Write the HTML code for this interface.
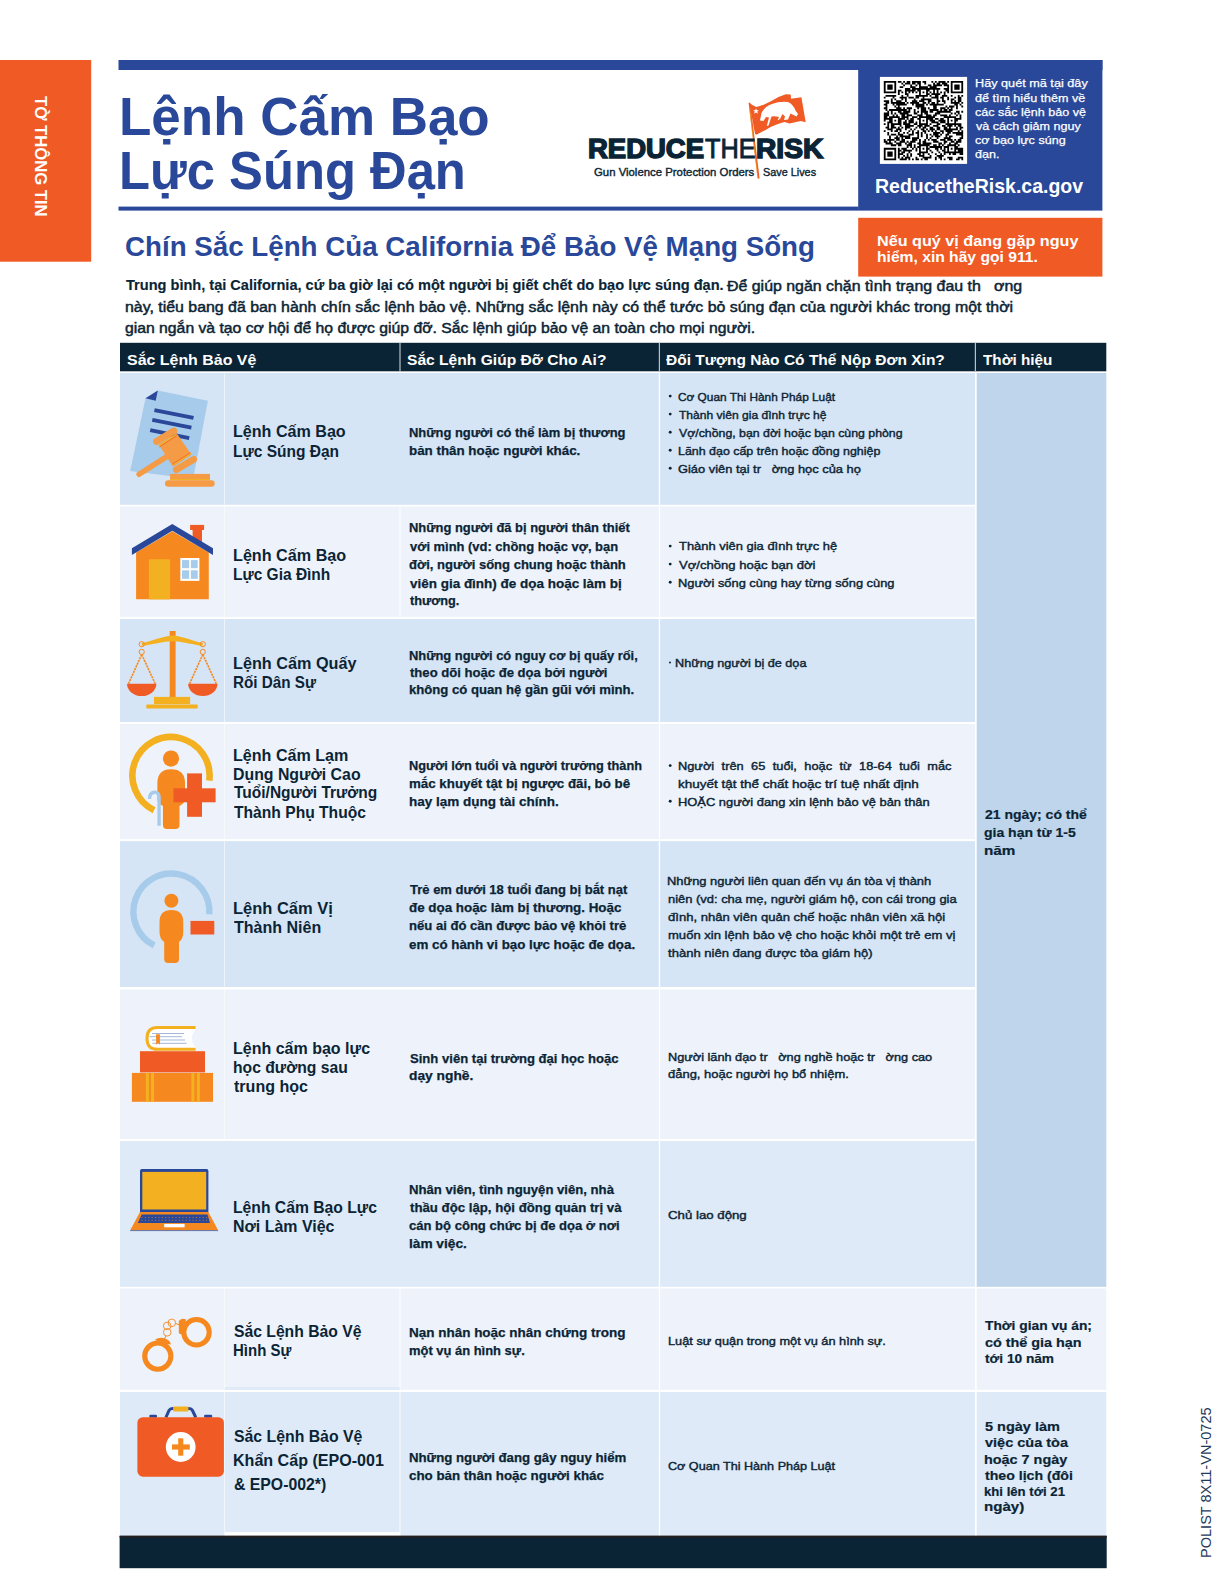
<!DOCTYPE html>
<html><head><meta charset="utf-8"><style>
html,body{margin:0;padding:0;background:#fff;}
body{width:1224px;height:1584px;position:relative;overflow:hidden;font-family:"Liberation Sans",sans-serif;}
.t{position:absolute;white-space:pre;transform-origin:0 0;}
svg{position:absolute;left:0;top:0;}
</style></head><body>
<svg width="1224" height="1584" viewBox="0 0 1224 1584"><rect x="0" y="60" width="91.2" height="201.7" fill="#f05a24"/><rect x="118.5" y="60" width="984" height="10" fill="#2a4899"/><rect x="858.2" y="60" width="244.2" height="150.6" fill="#2a4899"/><rect x="118.5" y="206.6" width="740" height="4" fill="#2a4899"/><rect x="879.9" y="76.9" width="87.2" height="87" fill="#fff"/><path d="M883.80,80.90h1.81v1.81h-1.81zM885.56,80.90h1.81v1.81h-1.81zM887.32,80.90h1.81v1.81h-1.81zM889.09,80.90h1.81v1.81h-1.81zM890.85,80.90h1.81v1.81h-1.81zM892.61,80.90h1.81v1.81h-1.81zM894.37,80.90h1.81v1.81h-1.81zM897.90,80.90h1.81v1.81h-1.81zM899.66,80.90h1.81v1.81h-1.81zM903.18,80.90h1.81v1.81h-1.81zM906.71,80.90h1.81v1.81h-1.81zM908.47,80.90h1.81v1.81h-1.81zM912.00,80.90h1.81v1.81h-1.81zM913.76,80.90h1.81v1.81h-1.81zM915.52,80.90h1.81v1.81h-1.81zM917.28,80.90h1.81v1.81h-1.81zM919.04,80.90h1.81v1.81h-1.81zM922.57,80.90h1.81v1.81h-1.81zM924.33,80.90h1.81v1.81h-1.81zM931.38,80.90h1.81v1.81h-1.81zM934.90,80.90h1.81v1.81h-1.81zM938.43,80.90h1.81v1.81h-1.81zM940.19,80.90h1.81v1.81h-1.81zM941.95,80.90h1.81v1.81h-1.81zM943.72,80.90h1.81v1.81h-1.81zM947.24,80.90h1.81v1.81h-1.81zM950.76,80.90h1.81v1.81h-1.81zM952.53,80.90h1.81v1.81h-1.81zM954.29,80.90h1.81v1.81h-1.81zM956.05,80.90h1.81v1.81h-1.81zM957.81,80.90h1.81v1.81h-1.81zM959.58,80.90h1.81v1.81h-1.81zM961.34,80.90h1.81v1.81h-1.81zM883.80,82.66h1.81v1.81h-1.81zM894.37,82.66h1.81v1.81h-1.81zM901.42,82.66h1.81v1.81h-1.81zM904.95,82.66h1.81v1.81h-1.81zM906.71,82.66h1.81v1.81h-1.81zM908.47,82.66h1.81v1.81h-1.81zM912.00,82.66h1.81v1.81h-1.81zM913.76,82.66h1.81v1.81h-1.81zM917.28,82.66h1.81v1.81h-1.81zM919.04,82.66h1.81v1.81h-1.81zM924.33,82.66h1.81v1.81h-1.81zM933.14,82.66h1.81v1.81h-1.81zM936.67,82.66h1.81v1.81h-1.81zM938.43,82.66h1.81v1.81h-1.81zM941.95,82.66h1.81v1.81h-1.81zM943.72,82.66h1.81v1.81h-1.81zM945.48,82.66h1.81v1.81h-1.81zM950.76,82.66h1.81v1.81h-1.81zM961.34,82.66h1.81v1.81h-1.81zM883.80,84.42h1.81v1.81h-1.81zM887.32,84.42h1.81v1.81h-1.81zM889.09,84.42h1.81v1.81h-1.81zM890.85,84.42h1.81v1.81h-1.81zM894.37,84.42h1.81v1.81h-1.81zM903.18,84.42h1.81v1.81h-1.81zM910.23,84.42h1.81v1.81h-1.81zM915.52,84.42h1.81v1.81h-1.81zM919.04,84.42h1.81v1.81h-1.81zM927.86,84.42h1.81v1.81h-1.81zM929.62,84.42h1.81v1.81h-1.81zM933.14,84.42h1.81v1.81h-1.81zM934.90,84.42h1.81v1.81h-1.81zM936.67,84.42h1.81v1.81h-1.81zM938.43,84.42h1.81v1.81h-1.81zM940.19,84.42h1.81v1.81h-1.81zM943.72,84.42h1.81v1.81h-1.81zM945.48,84.42h1.81v1.81h-1.81zM947.24,84.42h1.81v1.81h-1.81zM950.76,84.42h1.81v1.81h-1.81zM954.29,84.42h1.81v1.81h-1.81zM956.05,84.42h1.81v1.81h-1.81zM957.81,84.42h1.81v1.81h-1.81zM961.34,84.42h1.81v1.81h-1.81zM883.80,86.19h1.81v1.81h-1.81zM887.32,86.19h1.81v1.81h-1.81zM889.09,86.19h1.81v1.81h-1.81zM890.85,86.19h1.81v1.81h-1.81zM894.37,86.19h1.81v1.81h-1.81zM899.66,86.19h1.81v1.81h-1.81zM901.42,86.19h1.81v1.81h-1.81zM910.23,86.19h1.81v1.81h-1.81zM912.00,86.19h1.81v1.81h-1.81zM913.76,86.19h1.81v1.81h-1.81zM919.04,86.19h1.81v1.81h-1.81zM920.81,86.19h1.81v1.81h-1.81zM922.57,86.19h1.81v1.81h-1.81zM924.33,86.19h1.81v1.81h-1.81zM926.09,86.19h1.81v1.81h-1.81zM929.62,86.19h1.81v1.81h-1.81zM931.38,86.19h1.81v1.81h-1.81zM933.14,86.19h1.81v1.81h-1.81zM934.90,86.19h1.81v1.81h-1.81zM947.24,86.19h1.81v1.81h-1.81zM950.76,86.19h1.81v1.81h-1.81zM954.29,86.19h1.81v1.81h-1.81zM956.05,86.19h1.81v1.81h-1.81zM957.81,86.19h1.81v1.81h-1.81zM961.34,86.19h1.81v1.81h-1.81zM883.80,87.95h1.81v1.81h-1.81zM887.32,87.95h1.81v1.81h-1.81zM889.09,87.95h1.81v1.81h-1.81zM890.85,87.95h1.81v1.81h-1.81zM894.37,87.95h1.81v1.81h-1.81zM904.95,87.95h1.81v1.81h-1.81zM906.71,87.95h1.81v1.81h-1.81zM908.47,87.95h1.81v1.81h-1.81zM912.00,87.95h1.81v1.81h-1.81zM913.76,87.95h1.81v1.81h-1.81zM915.52,87.95h1.81v1.81h-1.81zM917.28,87.95h1.81v1.81h-1.81zM919.04,87.95h1.81v1.81h-1.81zM920.81,87.95h1.81v1.81h-1.81zM922.57,87.95h1.81v1.81h-1.81zM924.33,87.95h1.81v1.81h-1.81zM926.09,87.95h1.81v1.81h-1.81zM927.86,87.95h1.81v1.81h-1.81zM929.62,87.95h1.81v1.81h-1.81zM931.38,87.95h1.81v1.81h-1.81zM933.14,87.95h1.81v1.81h-1.81zM934.90,87.95h1.81v1.81h-1.81zM936.67,87.95h1.81v1.81h-1.81zM938.43,87.95h1.81v1.81h-1.81zM943.72,87.95h1.81v1.81h-1.81zM945.48,87.95h1.81v1.81h-1.81zM947.24,87.95h1.81v1.81h-1.81zM950.76,87.95h1.81v1.81h-1.81zM954.29,87.95h1.81v1.81h-1.81zM956.05,87.95h1.81v1.81h-1.81zM957.81,87.95h1.81v1.81h-1.81zM961.34,87.95h1.81v1.81h-1.81zM883.80,89.71h1.81v1.81h-1.81zM894.37,89.71h1.81v1.81h-1.81zM897.90,89.71h1.81v1.81h-1.81zM899.66,89.71h1.81v1.81h-1.81zM904.95,89.71h1.81v1.81h-1.81zM906.71,89.71h1.81v1.81h-1.81zM908.47,89.71h1.81v1.81h-1.81zM910.23,89.71h1.81v1.81h-1.81zM912.00,89.71h1.81v1.81h-1.81zM913.76,89.71h1.81v1.81h-1.81zM917.28,89.71h1.81v1.81h-1.81zM919.04,89.71h1.81v1.81h-1.81zM926.09,89.71h1.81v1.81h-1.81zM927.86,89.71h1.81v1.81h-1.81zM933.14,89.71h1.81v1.81h-1.81zM936.67,89.71h1.81v1.81h-1.81zM945.48,89.71h1.81v1.81h-1.81zM947.24,89.71h1.81v1.81h-1.81zM950.76,89.71h1.81v1.81h-1.81zM961.34,89.71h1.81v1.81h-1.81zM883.80,91.47h1.81v1.81h-1.81zM885.56,91.47h1.81v1.81h-1.81zM887.32,91.47h1.81v1.81h-1.81zM889.09,91.47h1.81v1.81h-1.81zM890.85,91.47h1.81v1.81h-1.81zM892.61,91.47h1.81v1.81h-1.81zM894.37,91.47h1.81v1.81h-1.81zM897.90,91.47h1.81v1.81h-1.81zM901.42,91.47h1.81v1.81h-1.81zM904.95,91.47h1.81v1.81h-1.81zM908.47,91.47h1.81v1.81h-1.81zM912.00,91.47h1.81v1.81h-1.81zM915.52,91.47h1.81v1.81h-1.81zM919.04,91.47h1.81v1.81h-1.81zM922.57,91.47h1.81v1.81h-1.81zM926.09,91.47h1.81v1.81h-1.81zM929.62,91.47h1.81v1.81h-1.81zM933.14,91.47h1.81v1.81h-1.81zM936.67,91.47h1.81v1.81h-1.81zM940.19,91.47h1.81v1.81h-1.81zM943.72,91.47h1.81v1.81h-1.81zM947.24,91.47h1.81v1.81h-1.81zM950.76,91.47h1.81v1.81h-1.81zM952.53,91.47h1.81v1.81h-1.81zM954.29,91.47h1.81v1.81h-1.81zM956.05,91.47h1.81v1.81h-1.81zM957.81,91.47h1.81v1.81h-1.81zM959.58,91.47h1.81v1.81h-1.81zM961.34,91.47h1.81v1.81h-1.81zM897.90,93.24h1.81v1.81h-1.81zM904.95,93.24h1.81v1.81h-1.81zM906.71,93.24h1.81v1.81h-1.81zM919.04,93.24h1.81v1.81h-1.81zM926.09,93.24h1.81v1.81h-1.81zM927.86,93.24h1.81v1.81h-1.81zM931.38,93.24h1.81v1.81h-1.81zM933.14,93.24h1.81v1.81h-1.81zM934.90,93.24h1.81v1.81h-1.81zM936.67,93.24h1.81v1.81h-1.81zM938.43,93.24h1.81v1.81h-1.81zM943.72,93.24h1.81v1.81h-1.81zM885.56,95.00h1.81v1.81h-1.81zM887.32,95.00h1.81v1.81h-1.81zM889.09,95.00h1.81v1.81h-1.81zM890.85,95.00h1.81v1.81h-1.81zM892.61,95.00h1.81v1.81h-1.81zM894.37,95.00h1.81v1.81h-1.81zM901.42,95.00h1.81v1.81h-1.81zM906.71,95.00h1.81v1.81h-1.81zM915.52,95.00h1.81v1.81h-1.81zM917.28,95.00h1.81v1.81h-1.81zM919.04,95.00h1.81v1.81h-1.81zM920.81,95.00h1.81v1.81h-1.81zM922.57,95.00h1.81v1.81h-1.81zM924.33,95.00h1.81v1.81h-1.81zM926.09,95.00h1.81v1.81h-1.81zM929.62,95.00h1.81v1.81h-1.81zM934.90,95.00h1.81v1.81h-1.81zM936.67,95.00h1.81v1.81h-1.81zM941.95,95.00h1.81v1.81h-1.81zM943.72,95.00h1.81v1.81h-1.81zM945.48,95.00h1.81v1.81h-1.81zM950.76,95.00h1.81v1.81h-1.81zM957.81,95.00h1.81v1.81h-1.81zM961.34,95.00h1.81v1.81h-1.81zM883.80,96.76h1.81v1.81h-1.81zM892.61,96.76h1.81v1.81h-1.81zM899.66,96.76h1.81v1.81h-1.81zM901.42,96.76h1.81v1.81h-1.81zM903.18,96.76h1.81v1.81h-1.81zM904.95,96.76h1.81v1.81h-1.81zM908.47,96.76h1.81v1.81h-1.81zM910.23,96.76h1.81v1.81h-1.81zM912.00,96.76h1.81v1.81h-1.81zM915.52,96.76h1.81v1.81h-1.81zM917.28,96.76h1.81v1.81h-1.81zM922.57,96.76h1.81v1.81h-1.81zM931.38,96.76h1.81v1.81h-1.81zM933.14,96.76h1.81v1.81h-1.81zM934.90,96.76h1.81v1.81h-1.81zM936.67,96.76h1.81v1.81h-1.81zM940.19,96.76h1.81v1.81h-1.81zM941.95,96.76h1.81v1.81h-1.81zM947.24,96.76h1.81v1.81h-1.81zM954.29,96.76h1.81v1.81h-1.81zM957.81,96.76h1.81v1.81h-1.81zM959.58,96.76h1.81v1.81h-1.81zM890.85,98.52h1.81v1.81h-1.81zM894.37,98.52h1.81v1.81h-1.81zM901.42,98.52h1.81v1.81h-1.81zM904.95,98.52h1.81v1.81h-1.81zM913.76,98.52h1.81v1.81h-1.81zM920.81,98.52h1.81v1.81h-1.81zM922.57,98.52h1.81v1.81h-1.81zM924.33,98.52h1.81v1.81h-1.81zM926.09,98.52h1.81v1.81h-1.81zM927.86,98.52h1.81v1.81h-1.81zM929.62,98.52h1.81v1.81h-1.81zM936.67,98.52h1.81v1.81h-1.81zM941.95,98.52h1.81v1.81h-1.81zM947.24,98.52h1.81v1.81h-1.81zM950.76,98.52h1.81v1.81h-1.81zM952.53,98.52h1.81v1.81h-1.81zM957.81,98.52h1.81v1.81h-1.81zM959.58,98.52h1.81v1.81h-1.81zM883.80,100.28h1.81v1.81h-1.81zM885.56,100.28h1.81v1.81h-1.81zM887.32,100.28h1.81v1.81h-1.81zM890.85,100.28h1.81v1.81h-1.81zM896.14,100.28h1.81v1.81h-1.81zM897.90,100.28h1.81v1.81h-1.81zM899.66,100.28h1.81v1.81h-1.81zM904.95,100.28h1.81v1.81h-1.81zM912.00,100.28h1.81v1.81h-1.81zM913.76,100.28h1.81v1.81h-1.81zM915.52,100.28h1.81v1.81h-1.81zM919.04,100.28h1.81v1.81h-1.81zM920.81,100.28h1.81v1.81h-1.81zM922.57,100.28h1.81v1.81h-1.81zM927.86,100.28h1.81v1.81h-1.81zM929.62,100.28h1.81v1.81h-1.81zM936.67,100.28h1.81v1.81h-1.81zM938.43,100.28h1.81v1.81h-1.81zM941.95,100.28h1.81v1.81h-1.81zM943.72,100.28h1.81v1.81h-1.81zM950.76,100.28h1.81v1.81h-1.81zM954.29,100.28h1.81v1.81h-1.81zM957.81,100.28h1.81v1.81h-1.81zM959.58,100.28h1.81v1.81h-1.81zM885.56,102.05h1.81v1.81h-1.81zM887.32,102.05h1.81v1.81h-1.81zM890.85,102.05h1.81v1.81h-1.81zM892.61,102.05h1.81v1.81h-1.81zM894.37,102.05h1.81v1.81h-1.81zM896.14,102.05h1.81v1.81h-1.81zM897.90,102.05h1.81v1.81h-1.81zM899.66,102.05h1.81v1.81h-1.81zM901.42,102.05h1.81v1.81h-1.81zM903.18,102.05h1.81v1.81h-1.81zM906.71,102.05h1.81v1.81h-1.81zM910.23,102.05h1.81v1.81h-1.81zM912.00,102.05h1.81v1.81h-1.81zM913.76,102.05h1.81v1.81h-1.81zM915.52,102.05h1.81v1.81h-1.81zM917.28,102.05h1.81v1.81h-1.81zM922.57,102.05h1.81v1.81h-1.81zM924.33,102.05h1.81v1.81h-1.81zM927.86,102.05h1.81v1.81h-1.81zM931.38,102.05h1.81v1.81h-1.81zM933.14,102.05h1.81v1.81h-1.81zM936.67,102.05h1.81v1.81h-1.81zM943.72,102.05h1.81v1.81h-1.81zM950.76,102.05h1.81v1.81h-1.81zM952.53,102.05h1.81v1.81h-1.81zM954.29,102.05h1.81v1.81h-1.81zM956.05,102.05h1.81v1.81h-1.81zM957.81,102.05h1.81v1.81h-1.81zM961.34,102.05h1.81v1.81h-1.81zM883.80,103.81h1.81v1.81h-1.81zM885.56,103.81h1.81v1.81h-1.81zM892.61,103.81h1.81v1.81h-1.81zM896.14,103.81h1.81v1.81h-1.81zM897.90,103.81h1.81v1.81h-1.81zM899.66,103.81h1.81v1.81h-1.81zM901.42,103.81h1.81v1.81h-1.81zM903.18,103.81h1.81v1.81h-1.81zM904.95,103.81h1.81v1.81h-1.81zM912.00,103.81h1.81v1.81h-1.81zM915.52,103.81h1.81v1.81h-1.81zM917.28,103.81h1.81v1.81h-1.81zM919.04,103.81h1.81v1.81h-1.81zM920.81,103.81h1.81v1.81h-1.81zM922.57,103.81h1.81v1.81h-1.81zM926.09,103.81h1.81v1.81h-1.81zM929.62,103.81h1.81v1.81h-1.81zM931.38,103.81h1.81v1.81h-1.81zM933.14,103.81h1.81v1.81h-1.81zM934.90,103.81h1.81v1.81h-1.81zM936.67,103.81h1.81v1.81h-1.81zM938.43,103.81h1.81v1.81h-1.81zM940.19,103.81h1.81v1.81h-1.81zM941.95,103.81h1.81v1.81h-1.81zM954.29,103.81h1.81v1.81h-1.81zM956.05,103.81h1.81v1.81h-1.81zM959.58,103.81h1.81v1.81h-1.81zM885.56,105.57h1.81v1.81h-1.81zM894.37,105.57h1.81v1.81h-1.81zM897.90,105.57h1.81v1.81h-1.81zM915.52,105.57h1.81v1.81h-1.81zM917.28,105.57h1.81v1.81h-1.81zM919.04,105.57h1.81v1.81h-1.81zM920.81,105.57h1.81v1.81h-1.81zM922.57,105.57h1.81v1.81h-1.81zM933.14,105.57h1.81v1.81h-1.81zM934.90,105.57h1.81v1.81h-1.81zM945.48,105.57h1.81v1.81h-1.81zM949.00,105.57h1.81v1.81h-1.81zM950.76,105.57h1.81v1.81h-1.81zM952.53,105.57h1.81v1.81h-1.81zM956.05,105.57h1.81v1.81h-1.81zM961.34,105.57h1.81v1.81h-1.81zM883.80,107.33h1.81v1.81h-1.81zM885.56,107.33h1.81v1.81h-1.81zM896.14,107.33h1.81v1.81h-1.81zM897.90,107.33h1.81v1.81h-1.81zM899.66,107.33h1.81v1.81h-1.81zM903.18,107.33h1.81v1.81h-1.81zM906.71,107.33h1.81v1.81h-1.81zM908.47,107.33h1.81v1.81h-1.81zM910.23,107.33h1.81v1.81h-1.81zM917.28,107.33h1.81v1.81h-1.81zM920.81,107.33h1.81v1.81h-1.81zM922.57,107.33h1.81v1.81h-1.81zM924.33,107.33h1.81v1.81h-1.81zM927.86,107.33h1.81v1.81h-1.81zM933.14,107.33h1.81v1.81h-1.81zM934.90,107.33h1.81v1.81h-1.81zM940.19,107.33h1.81v1.81h-1.81zM941.95,107.33h1.81v1.81h-1.81zM943.72,107.33h1.81v1.81h-1.81zM947.24,107.33h1.81v1.81h-1.81zM950.76,107.33h1.81v1.81h-1.81zM956.05,107.33h1.81v1.81h-1.81zM885.56,109.10h1.81v1.81h-1.81zM889.09,109.10h1.81v1.81h-1.81zM890.85,109.10h1.81v1.81h-1.81zM892.61,109.10h1.81v1.81h-1.81zM894.37,109.10h1.81v1.81h-1.81zM896.14,109.10h1.81v1.81h-1.81zM897.90,109.10h1.81v1.81h-1.81zM899.66,109.10h1.81v1.81h-1.81zM901.42,109.10h1.81v1.81h-1.81zM903.18,109.10h1.81v1.81h-1.81zM904.95,109.10h1.81v1.81h-1.81zM908.47,109.10h1.81v1.81h-1.81zM913.76,109.10h1.81v1.81h-1.81zM920.81,109.10h1.81v1.81h-1.81zM922.57,109.10h1.81v1.81h-1.81zM924.33,109.10h1.81v1.81h-1.81zM929.62,109.10h1.81v1.81h-1.81zM931.38,109.10h1.81v1.81h-1.81zM933.14,109.10h1.81v1.81h-1.81zM934.90,109.10h1.81v1.81h-1.81zM936.67,109.10h1.81v1.81h-1.81zM940.19,109.10h1.81v1.81h-1.81zM943.72,109.10h1.81v1.81h-1.81zM945.48,109.10h1.81v1.81h-1.81zM949.00,109.10h1.81v1.81h-1.81zM950.76,109.10h1.81v1.81h-1.81zM887.32,110.86h1.81v1.81h-1.81zM890.85,110.86h1.81v1.81h-1.81zM897.90,110.86h1.81v1.81h-1.81zM899.66,110.86h1.81v1.81h-1.81zM903.18,110.86h1.81v1.81h-1.81zM904.95,110.86h1.81v1.81h-1.81zM906.71,110.86h1.81v1.81h-1.81zM908.47,110.86h1.81v1.81h-1.81zM913.76,110.86h1.81v1.81h-1.81zM917.28,110.86h1.81v1.81h-1.81zM920.81,110.86h1.81v1.81h-1.81zM922.57,110.86h1.81v1.81h-1.81zM924.33,110.86h1.81v1.81h-1.81zM926.09,110.86h1.81v1.81h-1.81zM929.62,110.86h1.81v1.81h-1.81zM931.38,110.86h1.81v1.81h-1.81zM936.67,110.86h1.81v1.81h-1.81zM938.43,110.86h1.81v1.81h-1.81zM940.19,110.86h1.81v1.81h-1.81zM941.95,110.86h1.81v1.81h-1.81zM943.72,110.86h1.81v1.81h-1.81zM945.48,110.86h1.81v1.81h-1.81zM947.24,110.86h1.81v1.81h-1.81zM949.00,110.86h1.81v1.81h-1.81zM956.05,110.86h1.81v1.81h-1.81zM957.81,110.86h1.81v1.81h-1.81zM961.34,110.86h1.81v1.81h-1.81zM883.80,112.62h1.81v1.81h-1.81zM885.56,112.62h1.81v1.81h-1.81zM887.32,112.62h1.81v1.81h-1.81zM890.85,112.62h1.81v1.81h-1.81zM894.37,112.62h1.81v1.81h-1.81zM899.66,112.62h1.81v1.81h-1.81zM901.42,112.62h1.81v1.81h-1.81zM903.18,112.62h1.81v1.81h-1.81zM904.95,112.62h1.81v1.81h-1.81zM906.71,112.62h1.81v1.81h-1.81zM913.76,112.62h1.81v1.81h-1.81zM915.52,112.62h1.81v1.81h-1.81zM920.81,112.62h1.81v1.81h-1.81zM924.33,112.62h1.81v1.81h-1.81zM926.09,112.62h1.81v1.81h-1.81zM934.90,112.62h1.81v1.81h-1.81zM936.67,112.62h1.81v1.81h-1.81zM938.43,112.62h1.81v1.81h-1.81zM950.76,112.62h1.81v1.81h-1.81zM954.29,112.62h1.81v1.81h-1.81zM957.81,112.62h1.81v1.81h-1.81zM883.80,114.38h1.81v1.81h-1.81zM885.56,114.38h1.81v1.81h-1.81zM887.32,114.38h1.81v1.81h-1.81zM892.61,114.38h1.81v1.81h-1.81zM896.14,114.38h1.81v1.81h-1.81zM901.42,114.38h1.81v1.81h-1.81zM903.18,114.38h1.81v1.81h-1.81zM906.71,114.38h1.81v1.81h-1.81zM908.47,114.38h1.81v1.81h-1.81zM910.23,114.38h1.81v1.81h-1.81zM917.28,114.38h1.81v1.81h-1.81zM919.04,114.38h1.81v1.81h-1.81zM920.81,114.38h1.81v1.81h-1.81zM926.09,114.38h1.81v1.81h-1.81zM927.86,114.38h1.81v1.81h-1.81zM929.62,114.38h1.81v1.81h-1.81zM933.14,114.38h1.81v1.81h-1.81zM934.90,114.38h1.81v1.81h-1.81zM940.19,114.38h1.81v1.81h-1.81zM941.95,114.38h1.81v1.81h-1.81zM943.72,114.38h1.81v1.81h-1.81zM945.48,114.38h1.81v1.81h-1.81zM949.00,114.38h1.81v1.81h-1.81zM956.05,114.38h1.81v1.81h-1.81zM959.58,114.38h1.81v1.81h-1.81zM883.80,116.14h1.81v1.81h-1.81zM885.56,116.14h1.81v1.81h-1.81zM889.09,116.14h1.81v1.81h-1.81zM890.85,116.14h1.81v1.81h-1.81zM892.61,116.14h1.81v1.81h-1.81zM894.37,116.14h1.81v1.81h-1.81zM896.14,116.14h1.81v1.81h-1.81zM897.90,116.14h1.81v1.81h-1.81zM901.42,116.14h1.81v1.81h-1.81zM903.18,116.14h1.81v1.81h-1.81zM904.95,116.14h1.81v1.81h-1.81zM906.71,116.14h1.81v1.81h-1.81zM912.00,116.14h1.81v1.81h-1.81zM913.76,116.14h1.81v1.81h-1.81zM915.52,116.14h1.81v1.81h-1.81zM919.04,116.14h1.81v1.81h-1.81zM920.81,116.14h1.81v1.81h-1.81zM922.57,116.14h1.81v1.81h-1.81zM924.33,116.14h1.81v1.81h-1.81zM926.09,116.14h1.81v1.81h-1.81zM927.86,116.14h1.81v1.81h-1.81zM929.62,116.14h1.81v1.81h-1.81zM931.38,116.14h1.81v1.81h-1.81zM933.14,116.14h1.81v1.81h-1.81zM943.72,116.14h1.81v1.81h-1.81zM945.48,116.14h1.81v1.81h-1.81zM947.24,116.14h1.81v1.81h-1.81zM949.00,116.14h1.81v1.81h-1.81zM950.76,116.14h1.81v1.81h-1.81zM952.53,116.14h1.81v1.81h-1.81zM954.29,116.14h1.81v1.81h-1.81zM959.58,116.14h1.81v1.81h-1.81zM883.80,117.91h1.81v1.81h-1.81zM885.56,117.91h1.81v1.81h-1.81zM887.32,117.91h1.81v1.81h-1.81zM889.09,117.91h1.81v1.81h-1.81zM890.85,117.91h1.81v1.81h-1.81zM897.90,117.91h1.81v1.81h-1.81zM899.66,117.91h1.81v1.81h-1.81zM901.42,117.91h1.81v1.81h-1.81zM903.18,117.91h1.81v1.81h-1.81zM906.71,117.91h1.81v1.81h-1.81zM910.23,117.91h1.81v1.81h-1.81zM912.00,117.91h1.81v1.81h-1.81zM917.28,117.91h1.81v1.81h-1.81zM919.04,117.91h1.81v1.81h-1.81zM926.09,117.91h1.81v1.81h-1.81zM927.86,117.91h1.81v1.81h-1.81zM929.62,117.91h1.81v1.81h-1.81zM931.38,117.91h1.81v1.81h-1.81zM934.90,117.91h1.81v1.81h-1.81zM936.67,117.91h1.81v1.81h-1.81zM940.19,117.91h1.81v1.81h-1.81zM941.95,117.91h1.81v1.81h-1.81zM947.24,117.91h1.81v1.81h-1.81zM954.29,117.91h1.81v1.81h-1.81zM956.05,117.91h1.81v1.81h-1.81zM957.81,117.91h1.81v1.81h-1.81zM959.58,117.91h1.81v1.81h-1.81zM883.80,119.67h1.81v1.81h-1.81zM889.09,119.67h1.81v1.81h-1.81zM890.85,119.67h1.81v1.81h-1.81zM894.37,119.67h1.81v1.81h-1.81zM897.90,119.67h1.81v1.81h-1.81zM899.66,119.67h1.81v1.81h-1.81zM904.95,119.67h1.81v1.81h-1.81zM908.47,119.67h1.81v1.81h-1.81zM910.23,119.67h1.81v1.81h-1.81zM912.00,119.67h1.81v1.81h-1.81zM919.04,119.67h1.81v1.81h-1.81zM922.57,119.67h1.81v1.81h-1.81zM926.09,119.67h1.81v1.81h-1.81zM929.62,119.67h1.81v1.81h-1.81zM931.38,119.67h1.81v1.81h-1.81zM933.14,119.67h1.81v1.81h-1.81zM938.43,119.67h1.81v1.81h-1.81zM940.19,119.67h1.81v1.81h-1.81zM941.95,119.67h1.81v1.81h-1.81zM943.72,119.67h1.81v1.81h-1.81zM947.24,119.67h1.81v1.81h-1.81zM950.76,119.67h1.81v1.81h-1.81zM954.29,119.67h1.81v1.81h-1.81zM956.05,119.67h1.81v1.81h-1.81zM887.32,121.43h1.81v1.81h-1.81zM889.09,121.43h1.81v1.81h-1.81zM890.85,121.43h1.81v1.81h-1.81zM897.90,121.43h1.81v1.81h-1.81zM899.66,121.43h1.81v1.81h-1.81zM903.18,121.43h1.81v1.81h-1.81zM904.95,121.43h1.81v1.81h-1.81zM908.47,121.43h1.81v1.81h-1.81zM910.23,121.43h1.81v1.81h-1.81zM912.00,121.43h1.81v1.81h-1.81zM915.52,121.43h1.81v1.81h-1.81zM919.04,121.43h1.81v1.81h-1.81zM926.09,121.43h1.81v1.81h-1.81zM931.38,121.43h1.81v1.81h-1.81zM933.14,121.43h1.81v1.81h-1.81zM934.90,121.43h1.81v1.81h-1.81zM936.67,121.43h1.81v1.81h-1.81zM940.19,121.43h1.81v1.81h-1.81zM941.95,121.43h1.81v1.81h-1.81zM943.72,121.43h1.81v1.81h-1.81zM947.24,121.43h1.81v1.81h-1.81zM954.29,121.43h1.81v1.81h-1.81zM883.80,123.19h1.81v1.81h-1.81zM887.32,123.19h1.81v1.81h-1.81zM890.85,123.19h1.81v1.81h-1.81zM892.61,123.19h1.81v1.81h-1.81zM894.37,123.19h1.81v1.81h-1.81zM896.14,123.19h1.81v1.81h-1.81zM897.90,123.19h1.81v1.81h-1.81zM899.66,123.19h1.81v1.81h-1.81zM903.18,123.19h1.81v1.81h-1.81zM904.95,123.19h1.81v1.81h-1.81zM906.71,123.19h1.81v1.81h-1.81zM908.47,123.19h1.81v1.81h-1.81zM913.76,123.19h1.81v1.81h-1.81zM915.52,123.19h1.81v1.81h-1.81zM919.04,123.19h1.81v1.81h-1.81zM920.81,123.19h1.81v1.81h-1.81zM922.57,123.19h1.81v1.81h-1.81zM924.33,123.19h1.81v1.81h-1.81zM926.09,123.19h1.81v1.81h-1.81zM929.62,123.19h1.81v1.81h-1.81zM936.67,123.19h1.81v1.81h-1.81zM938.43,123.19h1.81v1.81h-1.81zM945.48,123.19h1.81v1.81h-1.81zM947.24,123.19h1.81v1.81h-1.81zM949.00,123.19h1.81v1.81h-1.81zM950.76,123.19h1.81v1.81h-1.81zM952.53,123.19h1.81v1.81h-1.81zM954.29,123.19h1.81v1.81h-1.81zM956.05,123.19h1.81v1.81h-1.81zM957.81,123.19h1.81v1.81h-1.81zM959.58,123.19h1.81v1.81h-1.81zM887.32,124.96h1.81v1.81h-1.81zM890.85,124.96h1.81v1.81h-1.81zM892.61,124.96h1.81v1.81h-1.81zM899.66,124.96h1.81v1.81h-1.81zM904.95,124.96h1.81v1.81h-1.81zM906.71,124.96h1.81v1.81h-1.81zM908.47,124.96h1.81v1.81h-1.81zM910.23,124.96h1.81v1.81h-1.81zM912.00,124.96h1.81v1.81h-1.81zM917.28,124.96h1.81v1.81h-1.81zM919.04,124.96h1.81v1.81h-1.81zM920.81,124.96h1.81v1.81h-1.81zM924.33,124.96h1.81v1.81h-1.81zM926.09,124.96h1.81v1.81h-1.81zM927.86,124.96h1.81v1.81h-1.81zM933.14,124.96h1.81v1.81h-1.81zM934.90,124.96h1.81v1.81h-1.81zM936.67,124.96h1.81v1.81h-1.81zM941.95,124.96h1.81v1.81h-1.81zM943.72,124.96h1.81v1.81h-1.81zM947.24,124.96h1.81v1.81h-1.81zM949.00,124.96h1.81v1.81h-1.81zM950.76,124.96h1.81v1.81h-1.81zM954.29,124.96h1.81v1.81h-1.81zM957.81,124.96h1.81v1.81h-1.81zM959.58,124.96h1.81v1.81h-1.81zM885.56,126.72h1.81v1.81h-1.81zM887.32,126.72h1.81v1.81h-1.81zM890.85,126.72h1.81v1.81h-1.81zM892.61,126.72h1.81v1.81h-1.81zM894.37,126.72h1.81v1.81h-1.81zM897.90,126.72h1.81v1.81h-1.81zM901.42,126.72h1.81v1.81h-1.81zM904.95,126.72h1.81v1.81h-1.81zM906.71,126.72h1.81v1.81h-1.81zM908.47,126.72h1.81v1.81h-1.81zM915.52,126.72h1.81v1.81h-1.81zM919.04,126.72h1.81v1.81h-1.81zM922.57,126.72h1.81v1.81h-1.81zM924.33,126.72h1.81v1.81h-1.81zM929.62,126.72h1.81v1.81h-1.81zM931.38,126.72h1.81v1.81h-1.81zM936.67,126.72h1.81v1.81h-1.81zM938.43,126.72h1.81v1.81h-1.81zM943.72,126.72h1.81v1.81h-1.81zM945.48,126.72h1.81v1.81h-1.81zM949.00,126.72h1.81v1.81h-1.81zM956.05,126.72h1.81v1.81h-1.81zM959.58,126.72h1.81v1.81h-1.81zM961.34,126.72h1.81v1.81h-1.81zM887.32,128.48h1.81v1.81h-1.81zM889.09,128.48h1.81v1.81h-1.81zM890.85,128.48h1.81v1.81h-1.81zM896.14,128.48h1.81v1.81h-1.81zM897.90,128.48h1.81v1.81h-1.81zM899.66,128.48h1.81v1.81h-1.81zM904.95,128.48h1.81v1.81h-1.81zM910.23,128.48h1.81v1.81h-1.81zM913.76,128.48h1.81v1.81h-1.81zM920.81,128.48h1.81v1.81h-1.81zM922.57,128.48h1.81v1.81h-1.81zM926.09,128.48h1.81v1.81h-1.81zM929.62,128.48h1.81v1.81h-1.81zM931.38,128.48h1.81v1.81h-1.81zM933.14,128.48h1.81v1.81h-1.81zM936.67,128.48h1.81v1.81h-1.81zM938.43,128.48h1.81v1.81h-1.81zM943.72,128.48h1.81v1.81h-1.81zM945.48,128.48h1.81v1.81h-1.81zM947.24,128.48h1.81v1.81h-1.81zM949.00,128.48h1.81v1.81h-1.81zM950.76,128.48h1.81v1.81h-1.81zM952.53,128.48h1.81v1.81h-1.81zM954.29,128.48h1.81v1.81h-1.81zM956.05,128.48h1.81v1.81h-1.81zM959.58,128.48h1.81v1.81h-1.81zM883.80,130.24h1.81v1.81h-1.81zM890.85,130.24h1.81v1.81h-1.81zM894.37,130.24h1.81v1.81h-1.81zM896.14,130.24h1.81v1.81h-1.81zM899.66,130.24h1.81v1.81h-1.81zM908.47,130.24h1.81v1.81h-1.81zM912.00,130.24h1.81v1.81h-1.81zM917.28,130.24h1.81v1.81h-1.81zM922.57,130.24h1.81v1.81h-1.81zM924.33,130.24h1.81v1.81h-1.81zM927.86,130.24h1.81v1.81h-1.81zM931.38,130.24h1.81v1.81h-1.81zM934.90,130.24h1.81v1.81h-1.81zM940.19,130.24h1.81v1.81h-1.81zM941.95,130.24h1.81v1.81h-1.81zM945.48,130.24h1.81v1.81h-1.81zM947.24,130.24h1.81v1.81h-1.81zM949.00,130.24h1.81v1.81h-1.81zM950.76,130.24h1.81v1.81h-1.81zM957.81,130.24h1.81v1.81h-1.81zM961.34,130.24h1.81v1.81h-1.81zM887.32,132.00h1.81v1.81h-1.81zM897.90,132.00h1.81v1.81h-1.81zM903.18,132.00h1.81v1.81h-1.81zM906.71,132.00h1.81v1.81h-1.81zM912.00,132.00h1.81v1.81h-1.81zM915.52,132.00h1.81v1.81h-1.81zM917.28,132.00h1.81v1.81h-1.81zM920.81,132.00h1.81v1.81h-1.81zM924.33,132.00h1.81v1.81h-1.81zM933.14,132.00h1.81v1.81h-1.81zM934.90,132.00h1.81v1.81h-1.81zM936.67,132.00h1.81v1.81h-1.81zM938.43,132.00h1.81v1.81h-1.81zM941.95,132.00h1.81v1.81h-1.81zM947.24,132.00h1.81v1.81h-1.81zM949.00,132.00h1.81v1.81h-1.81zM952.53,132.00h1.81v1.81h-1.81zM954.29,132.00h1.81v1.81h-1.81zM956.05,132.00h1.81v1.81h-1.81zM957.81,132.00h1.81v1.81h-1.81zM959.58,132.00h1.81v1.81h-1.81zM961.34,132.00h1.81v1.81h-1.81zM887.32,133.77h1.81v1.81h-1.81zM890.85,133.77h1.81v1.81h-1.81zM892.61,133.77h1.81v1.81h-1.81zM894.37,133.77h1.81v1.81h-1.81zM897.90,133.77h1.81v1.81h-1.81zM899.66,133.77h1.81v1.81h-1.81zM901.42,133.77h1.81v1.81h-1.81zM908.47,133.77h1.81v1.81h-1.81zM910.23,133.77h1.81v1.81h-1.81zM912.00,133.77h1.81v1.81h-1.81zM917.28,133.77h1.81v1.81h-1.81zM920.81,133.77h1.81v1.81h-1.81zM926.09,133.77h1.81v1.81h-1.81zM929.62,133.77h1.81v1.81h-1.81zM933.14,133.77h1.81v1.81h-1.81zM934.90,133.77h1.81v1.81h-1.81zM936.67,133.77h1.81v1.81h-1.81zM940.19,133.77h1.81v1.81h-1.81zM945.48,133.77h1.81v1.81h-1.81zM947.24,133.77h1.81v1.81h-1.81zM956.05,133.77h1.81v1.81h-1.81zM957.81,133.77h1.81v1.81h-1.81zM959.58,133.77h1.81v1.81h-1.81zM961.34,133.77h1.81v1.81h-1.81zM889.09,135.53h1.81v1.81h-1.81zM896.14,135.53h1.81v1.81h-1.81zM899.66,135.53h1.81v1.81h-1.81zM901.42,135.53h1.81v1.81h-1.81zM903.18,135.53h1.81v1.81h-1.81zM904.95,135.53h1.81v1.81h-1.81zM906.71,135.53h1.81v1.81h-1.81zM908.47,135.53h1.81v1.81h-1.81zM917.28,135.53h1.81v1.81h-1.81zM920.81,135.53h1.81v1.81h-1.81zM926.09,135.53h1.81v1.81h-1.81zM931.38,135.53h1.81v1.81h-1.81zM934.90,135.53h1.81v1.81h-1.81zM936.67,135.53h1.81v1.81h-1.81zM938.43,135.53h1.81v1.81h-1.81zM945.48,135.53h1.81v1.81h-1.81zM949.00,135.53h1.81v1.81h-1.81zM950.76,135.53h1.81v1.81h-1.81zM961.34,135.53h1.81v1.81h-1.81zM889.09,137.29h1.81v1.81h-1.81zM894.37,137.29h1.81v1.81h-1.81zM896.14,137.29h1.81v1.81h-1.81zM897.90,137.29h1.81v1.81h-1.81zM901.42,137.29h1.81v1.81h-1.81zM904.95,137.29h1.81v1.81h-1.81zM906.71,137.29h1.81v1.81h-1.81zM908.47,137.29h1.81v1.81h-1.81zM912.00,137.29h1.81v1.81h-1.81zM913.76,137.29h1.81v1.81h-1.81zM915.52,137.29h1.81v1.81h-1.81zM917.28,137.29h1.81v1.81h-1.81zM926.09,137.29h1.81v1.81h-1.81zM929.62,137.29h1.81v1.81h-1.81zM936.67,137.29h1.81v1.81h-1.81zM943.72,137.29h1.81v1.81h-1.81zM945.48,137.29h1.81v1.81h-1.81zM947.24,137.29h1.81v1.81h-1.81zM949.00,137.29h1.81v1.81h-1.81zM959.58,137.29h1.81v1.81h-1.81zM961.34,137.29h1.81v1.81h-1.81zM883.80,139.05h1.81v1.81h-1.81zM887.32,139.05h1.81v1.81h-1.81zM889.09,139.05h1.81v1.81h-1.81zM890.85,139.05h1.81v1.81h-1.81zM892.61,139.05h1.81v1.81h-1.81zM896.14,139.05h1.81v1.81h-1.81zM897.90,139.05h1.81v1.81h-1.81zM901.42,139.05h1.81v1.81h-1.81zM903.18,139.05h1.81v1.81h-1.81zM912.00,139.05h1.81v1.81h-1.81zM913.76,139.05h1.81v1.81h-1.81zM915.52,139.05h1.81v1.81h-1.81zM919.04,139.05h1.81v1.81h-1.81zM924.33,139.05h1.81v1.81h-1.81zM927.86,139.05h1.81v1.81h-1.81zM931.38,139.05h1.81v1.81h-1.81zM933.14,139.05h1.81v1.81h-1.81zM934.90,139.05h1.81v1.81h-1.81zM940.19,139.05h1.81v1.81h-1.81zM941.95,139.05h1.81v1.81h-1.81zM943.72,139.05h1.81v1.81h-1.81zM947.24,139.05h1.81v1.81h-1.81zM949.00,139.05h1.81v1.81h-1.81zM950.76,139.05h1.81v1.81h-1.81zM954.29,139.05h1.81v1.81h-1.81zM957.81,139.05h1.81v1.81h-1.81zM959.58,139.05h1.81v1.81h-1.81zM883.80,140.82h1.81v1.81h-1.81zM885.56,140.82h1.81v1.81h-1.81zM889.09,140.82h1.81v1.81h-1.81zM894.37,140.82h1.81v1.81h-1.81zM899.66,140.82h1.81v1.81h-1.81zM901.42,140.82h1.81v1.81h-1.81zM903.18,140.82h1.81v1.81h-1.81zM906.71,140.82h1.81v1.81h-1.81zM910.23,140.82h1.81v1.81h-1.81zM912.00,140.82h1.81v1.81h-1.81zM913.76,140.82h1.81v1.81h-1.81zM919.04,140.82h1.81v1.81h-1.81zM922.57,140.82h1.81v1.81h-1.81zM924.33,140.82h1.81v1.81h-1.81zM933.14,140.82h1.81v1.81h-1.81zM934.90,140.82h1.81v1.81h-1.81zM936.67,140.82h1.81v1.81h-1.81zM943.72,140.82h1.81v1.81h-1.81zM945.48,140.82h1.81v1.81h-1.81zM950.76,140.82h1.81v1.81h-1.81zM952.53,140.82h1.81v1.81h-1.81zM956.05,140.82h1.81v1.81h-1.81zM957.81,140.82h1.81v1.81h-1.81zM959.58,140.82h1.81v1.81h-1.81zM885.56,142.58h1.81v1.81h-1.81zM887.32,142.58h1.81v1.81h-1.81zM889.09,142.58h1.81v1.81h-1.81zM890.85,142.58h1.81v1.81h-1.81zM896.14,142.58h1.81v1.81h-1.81zM897.90,142.58h1.81v1.81h-1.81zM899.66,142.58h1.81v1.81h-1.81zM904.95,142.58h1.81v1.81h-1.81zM908.47,142.58h1.81v1.81h-1.81zM910.23,142.58h1.81v1.81h-1.81zM917.28,142.58h1.81v1.81h-1.81zM919.04,142.58h1.81v1.81h-1.81zM922.57,142.58h1.81v1.81h-1.81zM924.33,142.58h1.81v1.81h-1.81zM926.09,142.58h1.81v1.81h-1.81zM927.86,142.58h1.81v1.81h-1.81zM929.62,142.58h1.81v1.81h-1.81zM938.43,142.58h1.81v1.81h-1.81zM940.19,142.58h1.81v1.81h-1.81zM943.72,142.58h1.81v1.81h-1.81zM949.00,142.58h1.81v1.81h-1.81zM954.29,142.58h1.81v1.81h-1.81zM956.05,142.58h1.81v1.81h-1.81zM890.85,144.34h1.81v1.81h-1.81zM892.61,144.34h1.81v1.81h-1.81zM894.37,144.34h1.81v1.81h-1.81zM897.90,144.34h1.81v1.81h-1.81zM899.66,144.34h1.81v1.81h-1.81zM906.71,144.34h1.81v1.81h-1.81zM908.47,144.34h1.81v1.81h-1.81zM910.23,144.34h1.81v1.81h-1.81zM913.76,144.34h1.81v1.81h-1.81zM919.04,144.34h1.81v1.81h-1.81zM920.81,144.34h1.81v1.81h-1.81zM922.57,144.34h1.81v1.81h-1.81zM924.33,144.34h1.81v1.81h-1.81zM926.09,144.34h1.81v1.81h-1.81zM927.86,144.34h1.81v1.81h-1.81zM933.14,144.34h1.81v1.81h-1.81zM934.90,144.34h1.81v1.81h-1.81zM938.43,144.34h1.81v1.81h-1.81zM941.95,144.34h1.81v1.81h-1.81zM947.24,144.34h1.81v1.81h-1.81zM949.00,144.34h1.81v1.81h-1.81zM950.76,144.34h1.81v1.81h-1.81zM952.53,144.34h1.81v1.81h-1.81zM954.29,144.34h1.81v1.81h-1.81zM957.81,144.34h1.81v1.81h-1.81zM906.71,146.10h1.81v1.81h-1.81zM910.23,146.10h1.81v1.81h-1.81zM913.76,146.10h1.81v1.81h-1.81zM917.28,146.10h1.81v1.81h-1.81zM919.04,146.10h1.81v1.81h-1.81zM926.09,146.10h1.81v1.81h-1.81zM929.62,146.10h1.81v1.81h-1.81zM931.38,146.10h1.81v1.81h-1.81zM933.14,146.10h1.81v1.81h-1.81zM934.90,146.10h1.81v1.81h-1.81zM936.67,146.10h1.81v1.81h-1.81zM938.43,146.10h1.81v1.81h-1.81zM940.19,146.10h1.81v1.81h-1.81zM943.72,146.10h1.81v1.81h-1.81zM945.48,146.10h1.81v1.81h-1.81zM947.24,146.10h1.81v1.81h-1.81zM954.29,146.10h1.81v1.81h-1.81zM956.05,146.10h1.81v1.81h-1.81zM883.80,147.86h1.81v1.81h-1.81zM885.56,147.86h1.81v1.81h-1.81zM887.32,147.86h1.81v1.81h-1.81zM889.09,147.86h1.81v1.81h-1.81zM890.85,147.86h1.81v1.81h-1.81zM892.61,147.86h1.81v1.81h-1.81zM894.37,147.86h1.81v1.81h-1.81zM897.90,147.86h1.81v1.81h-1.81zM901.42,147.86h1.81v1.81h-1.81zM903.18,147.86h1.81v1.81h-1.81zM904.95,147.86h1.81v1.81h-1.81zM912.00,147.86h1.81v1.81h-1.81zM915.52,147.86h1.81v1.81h-1.81zM919.04,147.86h1.81v1.81h-1.81zM922.57,147.86h1.81v1.81h-1.81zM926.09,147.86h1.81v1.81h-1.81zM927.86,147.86h1.81v1.81h-1.81zM934.90,147.86h1.81v1.81h-1.81zM936.67,147.86h1.81v1.81h-1.81zM940.19,147.86h1.81v1.81h-1.81zM943.72,147.86h1.81v1.81h-1.81zM947.24,147.86h1.81v1.81h-1.81zM950.76,147.86h1.81v1.81h-1.81zM954.29,147.86h1.81v1.81h-1.81zM956.05,147.86h1.81v1.81h-1.81zM957.81,147.86h1.81v1.81h-1.81zM959.58,147.86h1.81v1.81h-1.81zM961.34,147.86h1.81v1.81h-1.81zM883.80,149.63h1.81v1.81h-1.81zM894.37,149.63h1.81v1.81h-1.81zM897.90,149.63h1.81v1.81h-1.81zM899.66,149.63h1.81v1.81h-1.81zM903.18,149.63h1.81v1.81h-1.81zM904.95,149.63h1.81v1.81h-1.81zM906.71,149.63h1.81v1.81h-1.81zM908.47,149.63h1.81v1.81h-1.81zM910.23,149.63h1.81v1.81h-1.81zM915.52,149.63h1.81v1.81h-1.81zM919.04,149.63h1.81v1.81h-1.81zM926.09,149.63h1.81v1.81h-1.81zM929.62,149.63h1.81v1.81h-1.81zM936.67,149.63h1.81v1.81h-1.81zM941.95,149.63h1.81v1.81h-1.81zM943.72,149.63h1.81v1.81h-1.81zM947.24,149.63h1.81v1.81h-1.81zM954.29,149.63h1.81v1.81h-1.81zM957.81,149.63h1.81v1.81h-1.81zM959.58,149.63h1.81v1.81h-1.81zM961.34,149.63h1.81v1.81h-1.81zM883.80,151.39h1.81v1.81h-1.81zM887.32,151.39h1.81v1.81h-1.81zM889.09,151.39h1.81v1.81h-1.81zM890.85,151.39h1.81v1.81h-1.81zM894.37,151.39h1.81v1.81h-1.81zM897.90,151.39h1.81v1.81h-1.81zM901.42,151.39h1.81v1.81h-1.81zM903.18,151.39h1.81v1.81h-1.81zM908.47,151.39h1.81v1.81h-1.81zM919.04,151.39h1.81v1.81h-1.81zM920.81,151.39h1.81v1.81h-1.81zM922.57,151.39h1.81v1.81h-1.81zM924.33,151.39h1.81v1.81h-1.81zM926.09,151.39h1.81v1.81h-1.81zM931.38,151.39h1.81v1.81h-1.81zM938.43,151.39h1.81v1.81h-1.81zM943.72,151.39h1.81v1.81h-1.81zM945.48,151.39h1.81v1.81h-1.81zM947.24,151.39h1.81v1.81h-1.81zM949.00,151.39h1.81v1.81h-1.81zM950.76,151.39h1.81v1.81h-1.81zM952.53,151.39h1.81v1.81h-1.81zM954.29,151.39h1.81v1.81h-1.81zM956.05,151.39h1.81v1.81h-1.81zM957.81,151.39h1.81v1.81h-1.81zM959.58,151.39h1.81v1.81h-1.81zM961.34,151.39h1.81v1.81h-1.81zM883.80,153.15h1.81v1.81h-1.81zM887.32,153.15h1.81v1.81h-1.81zM889.09,153.15h1.81v1.81h-1.81zM890.85,153.15h1.81v1.81h-1.81zM894.37,153.15h1.81v1.81h-1.81zM897.90,153.15h1.81v1.81h-1.81zM899.66,153.15h1.81v1.81h-1.81zM901.42,153.15h1.81v1.81h-1.81zM906.71,153.15h1.81v1.81h-1.81zM910.23,153.15h1.81v1.81h-1.81zM917.28,153.15h1.81v1.81h-1.81zM919.04,153.15h1.81v1.81h-1.81zM922.57,153.15h1.81v1.81h-1.81zM927.86,153.15h1.81v1.81h-1.81zM934.90,153.15h1.81v1.81h-1.81zM940.19,153.15h1.81v1.81h-1.81zM943.72,153.15h1.81v1.81h-1.81zM949.00,153.15h1.81v1.81h-1.81zM952.53,153.15h1.81v1.81h-1.81zM954.29,153.15h1.81v1.81h-1.81zM959.58,153.15h1.81v1.81h-1.81zM961.34,153.15h1.81v1.81h-1.81zM883.80,154.91h1.81v1.81h-1.81zM887.32,154.91h1.81v1.81h-1.81zM889.09,154.91h1.81v1.81h-1.81zM890.85,154.91h1.81v1.81h-1.81zM894.37,154.91h1.81v1.81h-1.81zM897.90,154.91h1.81v1.81h-1.81zM903.18,154.91h1.81v1.81h-1.81zM906.71,154.91h1.81v1.81h-1.81zM910.23,154.91h1.81v1.81h-1.81zM919.04,154.91h1.81v1.81h-1.81zM920.81,154.91h1.81v1.81h-1.81zM922.57,154.91h1.81v1.81h-1.81zM929.62,154.91h1.81v1.81h-1.81zM936.67,154.91h1.81v1.81h-1.81zM938.43,154.91h1.81v1.81h-1.81zM940.19,154.91h1.81v1.81h-1.81zM941.95,154.91h1.81v1.81h-1.81zM883.80,156.68h1.81v1.81h-1.81zM894.37,156.68h1.81v1.81h-1.81zM897.90,156.68h1.81v1.81h-1.81zM901.42,156.68h1.81v1.81h-1.81zM904.95,156.68h1.81v1.81h-1.81zM906.71,156.68h1.81v1.81h-1.81zM908.47,156.68h1.81v1.81h-1.81zM915.52,156.68h1.81v1.81h-1.81zM922.57,156.68h1.81v1.81h-1.81zM924.33,156.68h1.81v1.81h-1.81zM926.09,156.68h1.81v1.81h-1.81zM927.86,156.68h1.81v1.81h-1.81zM929.62,156.68h1.81v1.81h-1.81zM934.90,156.68h1.81v1.81h-1.81zM938.43,156.68h1.81v1.81h-1.81zM940.19,156.68h1.81v1.81h-1.81zM947.24,156.68h1.81v1.81h-1.81zM949.00,156.68h1.81v1.81h-1.81zM950.76,156.68h1.81v1.81h-1.81zM957.81,156.68h1.81v1.81h-1.81zM959.58,156.68h1.81v1.81h-1.81zM961.34,156.68h1.81v1.81h-1.81zM883.80,158.44h1.81v1.81h-1.81zM885.56,158.44h1.81v1.81h-1.81zM887.32,158.44h1.81v1.81h-1.81zM889.09,158.44h1.81v1.81h-1.81zM890.85,158.44h1.81v1.81h-1.81zM892.61,158.44h1.81v1.81h-1.81zM894.37,158.44h1.81v1.81h-1.81zM899.66,158.44h1.81v1.81h-1.81zM901.42,158.44h1.81v1.81h-1.81zM903.18,158.44h1.81v1.81h-1.81zM904.95,158.44h1.81v1.81h-1.81zM908.47,158.44h1.81v1.81h-1.81zM912.00,158.44h1.81v1.81h-1.81zM915.52,158.44h1.81v1.81h-1.81zM917.28,158.44h1.81v1.81h-1.81zM920.81,158.44h1.81v1.81h-1.81zM924.33,158.44h1.81v1.81h-1.81zM926.09,158.44h1.81v1.81h-1.81zM934.90,158.44h1.81v1.81h-1.81zM940.19,158.44h1.81v1.81h-1.81zM943.72,158.44h1.81v1.81h-1.81zM949.00,158.44h1.81v1.81h-1.81zM950.76,158.44h1.81v1.81h-1.81zM956.05,158.44h1.81v1.81h-1.81zM957.81,158.44h1.81v1.81h-1.81zM961.34,158.44h1.81v1.81h-1.81z" fill="#000"/><rect x="858.2" y="217.8" width="244.2" height="58.8" fill="#f05a24"/><rect x="120" y="342.8" width="986.3" height="28.5" fill="#0b2435"/><rect x="399.4" y="342.8" width="1.2" height="28.5" fill="#b9c0c6"/><rect x="658.8" y="342.8" width="1.2" height="28.5" fill="#b9c0c6"/><rect x="974.8" y="342.8" width="1.2" height="28.5" fill="#b9c0c6"/><rect x="120" y="373" width="538.8" height="131.8" fill="#d6e5f5"/><rect x="660.1" y="373" width="314.9" height="131.8" fill="#d6e5f5"/><rect x="224" y="373" width="1" height="131.8" fill="#ffffff" fill-opacity="0.55"/><rect x="120" y="506.5" width="538.8" height="110.5" fill="#eef3fb"/><rect x="660.1" y="506.5" width="314.9" height="110.5" fill="#eef3fb"/><rect x="224" y="506.5" width="1" height="110.5" fill="#ffffff" fill-opacity="0.55"/><rect x="399.4" y="506.5" width="1.2" height="110.5" fill="#ffffff" fill-opacity="0.7"/><rect x="120" y="619" width="538.8" height="103" fill="#d6e5f5"/><rect x="660.1" y="619" width="314.9" height="103" fill="#d6e5f5"/><rect x="224" y="619" width="1" height="103" fill="#ffffff" fill-opacity="0.55"/><rect x="120" y="724" width="538.8" height="115.20000000000005" fill="#eef3fb"/><rect x="660.1" y="724" width="314.9" height="115.20000000000005" fill="#eef3fb"/><rect x="224" y="724" width="1" height="115.20000000000005" fill="#ffffff" fill-opacity="0.55"/><rect x="120" y="841.1" width="538.8" height="145.89999999999998" fill="#d6e5f5"/><rect x="660.1" y="841.1" width="314.9" height="145.89999999999998" fill="#d6e5f5"/><rect x="224" y="841.1" width="1" height="145.89999999999998" fill="#ffffff" fill-opacity="0.55"/><rect x="120" y="989.4" width="538.8" height="149.60000000000002" fill="#eef3fb"/><rect x="660.1" y="989.4" width="314.9" height="149.60000000000002" fill="#eef3fb"/><rect x="224" y="989.4" width="1" height="149.60000000000002" fill="#ffffff" fill-opacity="0.55"/><rect x="120" y="1141" width="538.8" height="145.79999999999995" fill="#deeaf7"/><rect x="660.1" y="1141" width="314.9" height="145.79999999999995" fill="#deeaf7"/><rect x="120" y="1288.4" width="538.8" height="101.39999999999986" fill="#eef3fb"/><rect x="660.1" y="1288.4" width="314.9" height="101.39999999999986" fill="#eef3fb"/><rect x="224" y="1288.4" width="1" height="101.39999999999986" fill="#ffffff" fill-opacity="0.55"/><rect x="399.4" y="1288.4" width="1.2" height="101.39999999999986" fill="#ffffff" fill-opacity="0.7"/><rect x="120" y="1392" width="538.8" height="144" fill="#deeaf7"/><rect x="660.1" y="1392" width="314.9" height="144" fill="#deeaf7"/><rect x="224" y="1392" width="1" height="144" fill="#ffffff" fill-opacity="0.55"/><rect x="399.4" y="1392" width="1.2" height="144" fill="#ffffff" fill-opacity="0.7"/><rect x="976.7" y="373" width="129.6" height="913.8" fill="#bed5ec"/><rect x="976.7" y="1288.4" width="129.6" height="101.4" fill="#eef3fb"/><rect x="976.7" y="1392" width="129.6" height="144" fill="#deeaf7"/><rect x="224.8" y="1387.1" width="174.8" height="2.7" fill="#deeaf7"/><rect x="224.8" y="1532.2" width="175.2" height="3.8" fill="#ffffff"/><rect x="119.6" y="1536" width="987.1" height="32.2" fill="#0b2435"/><rect x="119.6" y="1535.6" width="987.1" height="2" fill="#231f20"/><polygon points="145.5,398.3 157.8,390.6 207.9,400.8 193.1,479 130.2,470.9" fill="#a7cbea"/><polygon points="145.5,398.3 157.8,390.6 155.7,400.8" fill="#2a4899"/><line x1="154.4" y1="410.2" x2="193.5" y2="417.8" stroke="#2a4899" stroke-width="3.8"/><line x1="152.3" y1="419.9" x2="191.4" y2="427.6" stroke="#2a4899" stroke-width="3.8"/><line x1="150.2" y1="430.1" x2="189.2" y2="438.2" stroke="#2a4899" stroke-width="3.8"/><line x1="139.1" y1="474.3" x2="166.3" y2="456.9" stroke="#f59b45" stroke-width="5.5" stroke-linecap="round"/><polygon points="158.7,444.6 176.9,433.5 191.4,454.8 173.1,466.7" fill="#f59b45"/><g transform="translate(165.2,436.2) rotate(-31)"><rect x="-13.5" y="-3.4" width="27" height="6.8" rx="3.4" fill="#f59b45"/></g><g transform="translate(185.0,464.5) rotate(-31)"><rect x="-13.5" y="-3.4" width="27" height="6.8" rx="3.4" fill="#f59b45"/></g><line x1="158.5" y1="446" x2="176.2" y2="434.5" stroke="#f3b121" stroke-width="1.1"/><line x1="159.3" y1="447" x2="177" y2="435.5" stroke="#f05a24" stroke-width="0.7"/><line x1="173" y1="465" x2="191" y2="453.5" stroke="#f3b121" stroke-width="1.1"/><line x1="172.6" y1="464" x2="190.6" y2="452.5" stroke="#f05a24" stroke-width="0.7"/><rect x="170.1" y="473.9" width="39.9" height="6.2" fill="#f59b45"/><rect x="170.1" y="479" width="39.9" height="1.3" fill="#f3b121"/><rect x="165" y="480.3" width="49.7" height="6.4" rx="3.2" fill="#f59b45"/><polygon points="136.1,552.5 172.3,531.2 208.8,552.5 208.8,599.2 136.1,599.2" fill="#f5891f"/><rect x="190.1" y="524.9" width="14" height="5.1" fill="#f05a24"/><rect x="192.6" y="529" width="9.4" height="13" fill="#f05a24"/><polygon points="131.9,548.2 172.3,524 213,548.2 213,555 172.3,530.8 131.9,555" fill="#2a4899"/><rect x="148.9" y="559.3" width="21.2" height="40.1" fill="#f3b121"/><rect x="180.3" y="558" width="19.1" height="22.9" fill="#fff"/><rect x="182" y="560.1" width="7.2" height="8.1" fill="#a7cbea"/><rect x="190.9" y="560.1" width="6.8" height="8.1" fill="#a7cbea"/><rect x="182" y="570.3" width="7.2" height="8.5" fill="#a7cbea"/><rect x="190.9" y="570.3" width="6.8" height="8.5" fill="#a7cbea"/><rect x="169.7" y="631" width="5.9" height="67" fill="#f5891f"/><path d="M141.7,643.0 C152,641.5 160,636.8 172.7,635.6 C185,636.8 193,641.5 202.8,643.0 L202.8,645.8 C193,644.8 185,641.8 172.7,641.2 C160,641.8 152,644.8 141.7,645.8 Z" fill="#f3b121"/><circle cx="141.7" cy="644.2" r="2.6" fill="none" stroke="#f5891f" stroke-width="1"/><circle cx="141.7" cy="651.9" r="2.6" fill="none" stroke="#f5891f" stroke-width="1"/><path d="M141.7,654.5 L128.5,683.7 M141.7,654.5 L155.2,683.7" stroke="#f5891f" stroke-width="1.6" stroke-dasharray="2.2 0.8" fill="none"/><path d="M126.99999999999999,683.7 A14.7,12.3 0 0 0 156.39999999999998,683.7 Z" fill="#f05a24"/><circle cx="202.8" cy="644.2" r="2.6" fill="none" stroke="#f5891f" stroke-width="1"/><circle cx="202.8" cy="651.9" r="2.6" fill="none" stroke="#f5891f" stroke-width="1"/><path d="M202.8,654.5 L189.60000000000002,683.7 M202.8,654.5 L216.3,683.7" stroke="#f5891f" stroke-width="1.6" stroke-dasharray="2.2 0.8" fill="none"/><path d="M188.10000000000002,683.7 A14.7,12.3 0 0 0 217.5,683.7 Z" fill="#f05a24"/><rect x="154" y="696.9" width="36.1" height="7.2" fill="#f3b121"/><rect x="146.3" y="704.5" width="51.4" height="3.9" rx="1" fill="#f3b121"/><path d="M209.27,780.64 A38.6,38.6 0 1 0 154.08,810.29" fill="none" stroke="#f3b121" stroke-width="6.6"/><circle cx="171" cy="758.6" r="8.1" fill="#f5891f"/><path d="M157.4,783 Q157.4,769.2 171,769.2 Q185,769.2 185,783 L185,799 Q185,803 179.5,806 L179.5,825 Q179.5,829.1 175.5,829.1 L166.9,829.1 Q162.9,829.1 162.9,825 L162.9,806 Q157.4,803 157.4,799 Z" fill="#f5891f"/><path d="M149.5,799 Q149.5,792.2 155,792.2 Q159.1,792.2 159.1,798 L159.1,825.7" fill="none" stroke="#a7cbea" stroke-width="3.4"/><rect x="187.1" y="773.4" width="14.9" height="43.4" fill="#f05a24"/><rect x="173.5" y="788.3" width="42.1" height="14" fill="#f05a24"/><path d="M209.31,914.25 A38.0,38.0 0 1 0 154.15,945.46" fill="none" stroke="#a7cbea" stroke-width="6.4"/><circle cx="171.4" cy="900.7" r="7" fill="#f5891f"/><path d="M159.5,922 Q159.5,909.9 171.4,909.9 Q183.3,909.9 183.3,922 L183.3,932 Q183.3,939 179,942 L179,959 Q179,963 175,963 L168.2,963 Q164.2,963 164.2,959 L164.2,942 Q159.5,939 159.5,932 Z" fill="#f5891f"/><rect x="190.5" y="920.9" width="23.8" height="13.6" fill="#f05a24"/><rect x="131.9" y="1072.9" width="81.1" height="28.9" fill="#f5891f"/><rect x="145.9" y="1072.9" width="3" height="28.9" fill="#f3b121"/><rect x="151" y="1072.9" width="3" height="28.9" fill="#f3b121"/><rect x="191.4" y="1072.9" width="3" height="28.9" fill="#f3b121"/><rect x="196.9" y="1072.9" width="3" height="28.9" fill="#f3b121"/><rect x="140" y="1051.2" width="65" height="21.2" fill="#f05a24"/><path d="M195.6,1027.6 L157.5,1027.6 Q147,1027.6 147,1038.4 Q147,1049.3 157.5,1049.3 L195.6,1049.3" fill="#fff" stroke="#f3b121" stroke-width="3"/><path d="M195.6,1029 Q188,1038.4 195.6,1048 L197,1048 L197,1029 Z" fill="#eef3fb"/><line x1="152" y1="1033.5" x2="184" y2="1033.5" stroke="#8ea3cc" stroke-width="0.8"/><line x1="149.5" y1="1036.7" x2="182" y2="1036.7" stroke="#8ea3cc" stroke-width="0.8"/><line x1="152" y1="1040.0" x2="185" y2="1040.0" stroke="#8ea3cc" stroke-width="0.8"/><line x1="152.5" y1="1043.3" x2="186.5" y2="1043.3" stroke="#8ea3cc" stroke-width="0.8"/><path d="M156.1,1034.2 L159.9,1034.2 L159.9,1044.8 L158,1043 L156.1,1044.8 Z" fill="#f5891f"/><rect x="140" y="1169.1" width="68.4" height="44" rx="1.8" fill="#2a4899"/><rect x="142.3" y="1171.9" width="63.9" height="37.6" fill="#f3b121"/><polygon points="140,1212 208.4,1212 218.1,1230.3 130.2,1230.3" fill="#f5891f"/><line x1="130.2" y1="1230.6" x2="218.1" y2="1230.6" stroke="#2a4899" stroke-width="0.7"/><polygon points="141.7,1214.6 207.5,1214.6 210,1223.1 137.8,1223.1" fill="#2a4899"/><line x1="138" y1="1217.5" x2="210" y2="1217.5" stroke="#f5891f" stroke-width="0.6" stroke-dasharray="1.2 2.2"/><line x1="138" y1="1220.3" x2="210" y2="1220.3" stroke="#f5891f" stroke-width="0.6" stroke-dasharray="1.2 2.2"/><rect x="164.2" y="1223.9" width="20.4" height="3.4" fill="#fff"/><circle cx="196.5" cy="1332.3" r="12.75" fill="none" stroke="#f5891f" stroke-width="5.1"/><circle cx="157.8" cy="1356.1" r="13.1" fill="none" stroke="#f5891f" stroke-width="5.1"/><path d="M178.8,1321 Q182,1317.5 186,1319.5 L184,1334 Q180,1335 178.8,1333 Z" fill="#f5891f"/><path d="M155,1339.5 Q160,1336.5 165,1338.5 Q170,1340 171,1344.5 L160,1343 Z" fill="#f5891f"/><circle cx="167.2" cy="1332.3" r="3.8" fill="none" stroke="#f5891f" stroke-width="0.9"/><circle cx="167.2" cy="1325.9" r="3.8" fill="none" stroke="#f5891f" stroke-width="0.9"/><circle cx="171.8" cy="1322.9" r="3.8" fill="none" stroke="#f5891f" stroke-width="0.9"/><line x1="175.5" y1="1323.5" x2="180" y2="1325" stroke="#f5891f" stroke-width="1"/><line x1="166" y1="1336" x2="163.5" y2="1340.5" stroke="#f5891f" stroke-width="1"/><path d="M165.9,1417.5 L169,1410.5 Q170,1408.6 172.5,1408.6 L189,1408.6 Q191.5,1408.6 192.5,1410.5 L195.8,1417.5" fill="none" stroke="#2a4899" stroke-width="3"/><rect x="173.1" y="1406.5" width="15.3" height="5.1" rx="1" fill="#f3b121"/><rect x="149.3" y="1414.8" width="7.7" height="3" rx="1.2" fill="#2a4899"/><rect x="204.1" y="1414.8" width="8.1" height="3" rx="1.2" fill="#2a4899"/><rect x="137.4" y="1417.2" width="86.5" height="59.5" rx="5.5" fill="#f05a24"/><circle cx="180.7" cy="1447" r="14.9" fill="#fff"/><rect x="178.2" y="1438.3" width="5.1" height="17.4" fill="#f5891f"/><rect x="172" y="1444.4" width="17.8" height="5.2" fill="#f5891f"/><polygon points="748.6,102.7 750.2,102.7 759.6,178.6 757.6,178.6" fill="#f05a24"/><line x1="749.6" y1="108" x2="757.9" y2="178" stroke="#f3b121" stroke-width="0.5"/><path d="M749.2,102.7 Q752,105 756.3,107 Q762,106 771.4,101.1 Q779,96 785.8,94.2 L790.7,94.5 L791,98.8 L801.4,97.2 L805.7,122.3 L800.8,121 Q795,122 789.7,123.6 L784.4,122 Q780,123 776.6,124.6 Q770,127 766.1,129.8 L756.3,134.7 L755,133.8 Z" fill="#f05a24"/><path d="M760,120.5 L761.5,113 Q765,106 772,104 Q780,101 788,102 Q793,104 795.5,110.5 L798,114 L796.5,116.5 L793.5,115 L790.5,113.5 L788,119.5 L784,120 L785,116.5 L782.5,114 L780,119 L777.5,120.5 L779,117 Q775,116 771.5,116.5 L768.5,125.5 L766.8,126 L769,117.5 L766,117 L763.5,121 Z" fill="#fff"/><polygon points="756,108.2 756.8,110.2 759,110.3 757.3,111.6 757.9,113.7 756,112.5 754.1,113.7 754.7,111.6 753,110.3 755.2,110.2" fill="#fff"/><circle cx="670.2" cy="396.1" r="1.45" fill="#0b2435"/><circle cx="670.2" cy="414.1" r="1.45" fill="#0b2435"/><circle cx="670.2" cy="432.2" r="1.45" fill="#0b2435"/><circle cx="670.2" cy="450.2" r="1.45" fill="#0b2435"/><circle cx="670.2" cy="468.3" r="1.45" fill="#0b2435"/><circle cx="670.2" cy="546.1" r="1.45" fill="#0b2435"/><circle cx="670.2" cy="564.1" r="1.45" fill="#0b2435"/><circle cx="670.2" cy="582.2" r="1.45" fill="#0b2435"/><circle cx="670.0" cy="662.6" r="1.0" fill="#0b2435"/><circle cx="670.2" cy="765.6" r="1.45" fill="#0b2435"/><circle cx="670.2" cy="801.3" r="1.45" fill="#0b2435"/></svg>
<div class="t" style="left:119.16px;top:89.50px;font-size:53.34px;line-height:53.34px;font-weight:700;color:#2a4899;transform:scaleX(0.9929);">Lệnh Cấm Bạo</div><div class="t" style="left:119.30px;top:143.50px;font-size:53.34px;line-height:53.34px;font-weight:700;color:#2a4899;transform:scaleX(0.9515);">Lực Súng Đạn</div><div class="t" style="left:124.86px;top:232.81px;font-size:27.47px;line-height:27.47px;font-weight:700;color:#2a4899;transform:scaleX(1.0091);">Chín Sắc Lệnh Của California Để Bảo Vệ Mạng Sống</div><div class="t" style="left:125.84px;top:279.44px;font-size:13.81px;line-height:13.81px;font-weight:700;color:#0b2435;transform:scaleX(1.0555);-webkit-text-stroke:0.15px #0b2435;">Trung bình, tại California, cứ ba giờ lại có một người bị giết chết do bạo lực súng đạn.</div><div class="t" style="left:726.89px;top:279.55px;font-size:13.81px;line-height:13.81px;font-weight:400;color:#0b2435;transform:scaleX(1.1527);-webkit-text-stroke:0.45px #0b2435;">Để giúp ngăn chặn tình trạng đau th   ơng</div><div class="t" style="left:124.94px;top:300.65px;font-size:13.81px;line-height:13.81px;font-weight:400;color:#0b2435;transform:scaleX(1.1519);-webkit-text-stroke:0.45px #0b2435;">này, tiểu bang đã ban hành chín sắc lệnh bảo vệ. Những sắc lệnh này có thể tước bỏ súng đạn của người khác trong một thời</div><div class="t" style="left:125.34px;top:321.65px;font-size:13.81px;line-height:13.81px;font-weight:400;color:#0b2435;transform:scaleX(1.1405);-webkit-text-stroke:0.45px #0b2435;">gian ngắn và tạo cơ hội để họ được giúp đỡ. Sắc lệnh giúp bảo vệ an toàn cho mọi người.</div><div class="t" style="left:974.96px;top:77.42px;font-size:11.63px;line-height:11.63px;font-weight:400;color:#ffffff;transform:scaleX(1.0902);-webkit-text-stroke:0.25px #ffffff;">Hãy quét mã tại đây</div><div class="t" style="left:975.47px;top:91.81px;font-size:11.63px;line-height:11.63px;font-weight:400;color:#ffffff;transform:scaleX(1.0799);-webkit-text-stroke:0.25px #ffffff;">để tìm hiểu thêm về</div><div class="t" style="left:975.47px;top:106.23px;font-size:11.63px;line-height:11.63px;font-weight:400;color:#ffffff;transform:scaleX(1.0799);-webkit-text-stroke:0.25px #ffffff;">các sắc lệnh bảo vệ</div><div class="t" style="left:975.96px;top:119.65px;font-size:11.63px;line-height:11.63px;font-weight:400;color:#ffffff;transform:scaleX(1.0799);-webkit-text-stroke:0.25px #ffffff;">và cách giảm nguy</div><div class="t" style="left:975.47px;top:134.07px;font-size:11.63px;line-height:11.63px;font-weight:400;color:#ffffff;transform:scaleX(1.0799);-webkit-text-stroke:0.25px #ffffff;">cơ bạo lực súng</div><div class="t" style="left:975.47px;top:148.49px;font-size:11.63px;line-height:11.63px;font-weight:400;color:#ffffff;transform:scaleX(1.0799);-webkit-text-stroke:0.25px #ffffff;">đạn.</div><div class="t" style="left:875.19px;top:177.19px;font-size:19.62px;line-height:19.62px;font-weight:700;color:#ffffff;transform:scaleX(0.9945);">ReducetheRisk.ca.gov</div><div class="t" style="left:876.62px;top:233.72px;font-size:14.97px;line-height:14.97px;font-weight:700;color:#ffffff;transform:scaleX(1.0814);">Nếu quý vị đang gặp nguy</div><div class="t" style="left:876.61px;top:249.72px;font-size:14.97px;line-height:14.97px;font-weight:700;color:#ffffff;transform:scaleX(1.0446);">hiểm, xin hãy gọi 911.</div><div class="t" style="left:126.74px;top:353.33px;font-size:14.97px;line-height:14.97px;font-weight:600;color:#ffffff;transform:scaleX(1.0646);">Sắc Lệnh Bảo Vệ</div><div class="t" style="left:406.85px;top:353.32px;font-size:14.97px;line-height:14.97px;font-weight:600;color:#ffffff;transform:scaleX(1.0421);">Sắc Lệnh Giúp Đỡ Cho Ai?</div><div class="t" style="left:666.44px;top:353.32px;font-size:14.97px;line-height:14.97px;font-weight:600;color:#ffffff;transform:scaleX(1.0362);">Đối Tượng Nào Có Thể Nộp Đơn Xin?</div><div class="t" style="left:983.13px;top:353.36px;font-size:14.97px;line-height:14.97px;font-weight:600;color:#ffffff;transform:scaleX(1.0198);">Thời hiệu</div><div class="t" style="left:233.22px;top:423.52px;font-size:15.84px;line-height:15.84px;font-weight:700;color:#0b2435;transform:scaleX(1.0171);">Lệnh Cấm Bạo</div><div class="t" style="left:233.26px;top:443.82px;font-size:15.84px;line-height:15.84px;font-weight:700;color:#0b2435;transform:scaleX(0.9806);">Lực Súng Đạn</div><div class="t" style="left:409.14px;top:427.23px;font-size:12.79px;line-height:12.79px;font-weight:700;color:#0b2435;transform:scaleX(1.0103);-webkit-text-stroke:0.25px #0b2435;">Những người có thể làm bị thương</div><div class="t" style="left:409.12px;top:444.73px;font-size:12.79px;line-height:12.79px;font-weight:700;color:#0b2435;transform:scaleX(1.0449);-webkit-text-stroke:0.25px #0b2435;">bản thân hoặc người khác.</div><div class="t" style="left:678.40px;top:391.57px;font-size:11.34px;line-height:11.34px;font-weight:400;color:#0b2435;transform:scaleX(1.0460);-webkit-text-stroke:0.4px #0b2435;">Cơ Quan Thi Hành Pháp Luật</div><div class="t" style="left:678.73px;top:409.73px;font-size:11.34px;line-height:11.34px;font-weight:400;color:#0b2435;transform:scaleX(1.0644);-webkit-text-stroke:0.4px #0b2435;">Thành viên gia đình trực hệ</div><div class="t" style="left:678.95px;top:427.85px;font-size:11.34px;line-height:11.34px;font-weight:400;color:#0b2435;transform:scaleX(1.0867);-webkit-text-stroke:0.4px #0b2435;">Vợ/chồng, bạn đời hoặc bạn cùng phòng</div><div class="t" style="left:677.98px;top:445.98px;font-size:11.34px;line-height:11.34px;font-weight:400;color:#0b2435;transform:scaleX(1.0963);-webkit-text-stroke:0.4px #0b2435;">Lãnh đạo cấp trên hoặc đồng nghiệp</div><div class="t" style="left:678.35px;top:464.09px;font-size:11.34px;line-height:11.34px;font-weight:400;color:#0b2435;transform:scaleX(1.1354);-webkit-text-stroke:0.4px #0b2435;">Giáo viên tại tr   ờng học của họ</div><div class="t" style="left:233.22px;top:547.72px;font-size:15.84px;line-height:15.84px;font-weight:700;color:#0b2435;transform:scaleX(1.0217);">Lệnh Cấm Bạo</div><div class="t" style="left:233.26px;top:566.62px;font-size:15.84px;line-height:15.84px;font-weight:700;color:#0b2435;transform:scaleX(0.9788);">Lực Gia Đình</div><div class="t" style="left:409.14px;top:522.33px;font-size:12.79px;line-height:12.79px;font-weight:700;color:#0b2435;transform:scaleX(1.0108);-webkit-text-stroke:0.25px #0b2435;">Những người đã bị người thân thiết</div><div class="t" style="left:409.95px;top:541.08px;font-size:12.79px;line-height:12.79px;font-weight:700;color:#0b2435;transform:scaleX(1.0117);-webkit-text-stroke:0.25px #0b2435;">với mình (vd: chồng hoặc vợ, bạn</div><div class="t" style="left:409.47px;top:558.82px;font-size:12.79px;line-height:12.79px;font-weight:700;color:#0b2435;transform:scaleX(1.0192);-webkit-text-stroke:0.25px #0b2435;">đời, người sống chung hoặc thành</div><div class="t" style="left:409.95px;top:577.56px;font-size:12.79px;line-height:12.79px;font-weight:700;color:#0b2435;transform:scaleX(1.0538);-webkit-text-stroke:0.25px #0b2435;">viên gia đình) đe dọa hoặc làm bị</div><div class="t" style="left:409.84px;top:595.32px;font-size:12.79px;line-height:12.79px;font-weight:700;color:#0b2435;transform:scaleX(0.9950);-webkit-text-stroke:0.25px #0b2435;">thương.</div><div class="t" style="left:678.71px;top:541.49px;font-size:11.34px;line-height:11.34px;font-weight:400;color:#0b2435;transform:scaleX(1.1413);-webkit-text-stroke:0.4px #0b2435;">Thành viên gia đình trực hệ</div><div class="t" style="left:678.94px;top:559.69px;font-size:11.34px;line-height:11.34px;font-weight:400;color:#0b2435;transform:scaleX(1.1556);-webkit-text-stroke:0.4px #0b2435;">Vợ/chồng hoặc bạn đời</div><div class="t" style="left:677.94px;top:577.79px;font-size:11.34px;line-height:11.34px;font-weight:400;color:#0b2435;transform:scaleX(1.1349);-webkit-text-stroke:0.4px #0b2435;">Người sống cùng hay từng sống cùng</div><div class="t" style="left:233.21px;top:656.32px;font-size:15.84px;line-height:15.84px;font-weight:700;color:#0b2435;transform:scaleX(1.0247);">Lệnh Cấm Quấy</div><div class="t" style="left:233.28px;top:675.34px;font-size:15.84px;line-height:15.84px;font-weight:700;color:#0b2435;transform:scaleX(0.9629);">Rối Dân Sự</div><div class="t" style="left:409.14px;top:649.83px;font-size:12.79px;line-height:12.79px;font-weight:700;color:#0b2435;transform:scaleX(1.0076);-webkit-text-stroke:0.25px #0b2435;">Những người có nguy cơ bị quấy rối,</div><div class="t" style="left:409.84px;top:667.03px;font-size:12.79px;line-height:12.79px;font-weight:700;color:#0b2435;transform:scaleX(1.0239);-webkit-text-stroke:0.25px #0b2435;">theo dõi hoặc đe dọa bởi người</div><div class="t" style="left:409.08px;top:684.22px;font-size:12.79px;line-height:12.79px;font-weight:700;color:#0b2435;transform:scaleX(1.0271);-webkit-text-stroke:0.25px #0b2435;">không có quan hệ gần gũi với mình.</div><div class="t" style="left:674.56px;top:658.17px;font-size:11.34px;line-height:11.34px;font-weight:400;color:#0b2435;transform:scaleX(1.1167);-webkit-text-stroke:0.4px #0b2435;">Những người bị đe dọa</div><div class="t" style="left:233.22px;top:748.22px;font-size:15.84px;line-height:15.84px;font-weight:700;color:#0b2435;transform:scaleX(1.0168);">Lệnh Cấm Lạm</div><div class="t" style="left:233.24px;top:766.77px;font-size:15.84px;line-height:15.84px;font-weight:700;color:#0b2435;transform:scaleX(1.0017);">Dụng Người Cao</div><div class="t" style="left:234.13px;top:785.32px;font-size:15.84px;line-height:15.84px;font-weight:700;color:#0b2435;transform:scaleX(0.9799);">Tuổi/Người Trưởng</div><div class="t" style="left:234.12px;top:804.87px;font-size:15.84px;line-height:15.84px;font-weight:700;color:#0b2435;transform:scaleX(0.9871);">Thành Phụ Thuộc</div><div class="t" style="left:409.15px;top:760.22px;font-size:12.79px;line-height:12.79px;font-weight:700;color:#0b2435;transform:scaleX(0.9963);-webkit-text-stroke:0.25px #0b2435;">Người lớn tuổi và người trưởng thành</div><div class="t" style="left:409.12px;top:778.42px;font-size:12.79px;line-height:12.79px;font-weight:700;color:#0b2435;transform:scaleX(1.0419);-webkit-text-stroke:0.25px #0b2435;">mắc khuyết tật bị ngược đãi, bỏ bê</div><div class="t" style="left:409.06px;top:795.61px;font-size:12.79px;line-height:12.79px;font-weight:700;color:#0b2435;transform:scaleX(1.0545);-webkit-text-stroke:0.25px #0b2435;">hay lạm dụng tài chính.</div><div class="t" style="left:677.95px;top:760.98px;font-size:11.34px;line-height:11.34px;font-weight:400;color:#0b2435;transform:scaleX(1.1296);word-spacing:3.43px;-webkit-text-stroke:0.4px #0b2435;">Người trên 65 tuổi, hoặc từ 18-64 tuổi mắc</div><div class="t" style="left:678.09px;top:778.54px;font-size:11.34px;line-height:11.34px;font-weight:400;color:#0b2435;transform:scaleX(1.1911);-webkit-text-stroke:0.4px #0b2435;">khuyết tật thể chất hoặc trí tuệ nhất định</div><div class="t" style="left:677.94px;top:797.09px;font-size:11.34px;line-height:11.34px;font-weight:400;color:#0b2435;transform:scaleX(1.1391);-webkit-text-stroke:0.4px #0b2435;">HOẶC người đang xin lệnh bảo vệ bản thân</div><div class="t" style="left:233.20px;top:901.12px;font-size:15.84px;line-height:15.84px;font-weight:700;color:#0b2435;transform:scaleX(1.0417);">Lệnh Cấm Vị</div><div class="t" style="left:234.12px;top:919.52px;font-size:15.84px;line-height:15.84px;font-weight:700;color:#0b2435;transform:scaleX(1.0126);">Thành Niên</div><div class="t" style="left:409.85px;top:883.93px;font-size:12.79px;line-height:12.79px;font-weight:700;color:#0b2435;transform:scaleX(1.0172);-webkit-text-stroke:0.25px #0b2435;">Trẻ em dưới 18 tuổi đang bị bắt nạt</div><div class="t" style="left:409.45px;top:901.83px;font-size:12.79px;line-height:12.79px;font-weight:700;color:#0b2435;transform:scaleX(1.0461);-webkit-text-stroke:0.25px #0b2435;">đe dọa hoặc làm bị thương. Hoặc</div><div class="t" style="left:409.14px;top:919.73px;font-size:12.79px;line-height:12.79px;font-weight:700;color:#0b2435;transform:scaleX(1.0238);-webkit-text-stroke:0.25px #0b2435;">nếu ai đó cần được bảo vệ khỏi trẻ</div><div class="t" style="left:409.48px;top:938.63px;font-size:12.79px;line-height:12.79px;font-weight:700;color:#0b2435;transform:scaleX(1.0438);-webkit-text-stroke:0.25px #0b2435;">em có hành vi bạo lực hoặc đe dọa.</div><div class="t" style="left:667.44px;top:875.69px;font-size:11.34px;line-height:11.34px;font-weight:400;color:#0b2435;transform:scaleX(1.1403);-webkit-text-stroke:0.4px #0b2435;">Những người liên quan đến vụ án tòa vị thành</div><div class="t" style="left:667.64px;top:893.69px;font-size:11.34px;line-height:11.34px;font-weight:400;color:#0b2435;transform:scaleX(1.1407);-webkit-text-stroke:0.4px #0b2435;">niên (vd: cha mẹ, người giám hộ, con cái trong gia</div><div class="t" style="left:667.95px;top:911.69px;font-size:11.34px;line-height:11.34px;font-weight:400;color:#0b2435;transform:scaleX(1.1522);-webkit-text-stroke:0.4px #0b2435;">đình, nhân viên quản chế hoặc nhân viên xã hội</div><div class="t" style="left:667.63px;top:929.69px;font-size:11.34px;line-height:11.34px;font-weight:400;color:#0b2435;transform:scaleX(1.1523);-webkit-text-stroke:0.4px #0b2435;">muốn xin lệnh bảo vệ cho hoặc khỏi một trẻ em vị</div><div class="t" style="left:668.30px;top:947.69px;font-size:11.34px;line-height:11.34px;font-weight:400;color:#0b2435;transform:scaleX(1.1522);-webkit-text-stroke:0.4px #0b2435;">thành niên đang được tòa giám hộ)</div><div class="t" style="left:233.23px;top:1040.82px;font-size:15.84px;line-height:15.84px;font-weight:700;color:#0b2435;transform:scaleX(1.0115);">Lệnh cấm bạo lực</div><div class="t" style="left:233.20px;top:1060.22px;font-size:15.84px;line-height:15.84px;font-weight:700;color:#0b2435;transform:scaleX(0.9904);">học đường sau</div><div class="t" style="left:234.10px;top:1078.62px;font-size:15.84px;line-height:15.84px;font-weight:700;color:#0b2435;transform:scaleX(1.0135);">trung học</div><div class="t" style="left:409.62px;top:1052.83px;font-size:12.79px;line-height:12.79px;font-weight:700;color:#0b2435;transform:scaleX(1.0238);-webkit-text-stroke:0.25px #0b2435;">Sinh viên tại trường đại học hoặc</div><div class="t" style="left:409.43px;top:1070.04px;font-size:12.79px;line-height:12.79px;font-weight:700;color:#0b2435;transform:scaleX(1.0781);-webkit-text-stroke:0.25px #0b2435;">dạy nghề.</div><div class="t" style="left:667.76px;top:1052.06px;font-size:11.34px;line-height:11.34px;font-weight:400;color:#0b2435;transform:scaleX(1.1233);-webkit-text-stroke:0.4px #0b2435;">Người lãnh đạo tr   ờng nghề hoặc tr   ờng cao</div><div class="t" style="left:668.26px;top:1069.39px;font-size:11.34px;line-height:11.34px;font-weight:400;color:#0b2435;transform:scaleX(1.1446);-webkit-text-stroke:0.4px #0b2435;">đẳng, hoặc người họ bổ nhiệm.</div><div class="t" style="left:233.25px;top:1199.72px;font-size:15.84px;line-height:15.84px;font-weight:700;color:#0b2435;transform:scaleX(0.9914);">Lệnh Cấm Bạo Lực</div><div class="t" style="left:233.23px;top:1218.62px;font-size:15.84px;line-height:15.84px;font-weight:700;color:#0b2435;transform:scaleX(1.0073);">Nơi Làm Việc</div><div class="t" style="left:409.12px;top:1184.42px;font-size:12.79px;line-height:12.79px;font-weight:700;color:#0b2435;transform:scaleX(1.0270);-webkit-text-stroke:0.25px #0b2435;">Nhân viên, tình nguyện viên, nhà</div><div class="t" style="left:409.84px;top:1202.41px;font-size:12.79px;line-height:12.79px;font-weight:700;color:#0b2435;transform:scaleX(1.0344);-webkit-text-stroke:0.25px #0b2435;">thầu độc lập, hội đồng quản trị và</div><div class="t" style="left:409.49px;top:1220.42px;font-size:12.79px;line-height:12.79px;font-weight:700;color:#0b2435;transform:scaleX(1.0206);-webkit-text-stroke:0.25px #0b2435;">cán bộ công chức bị đe dọa ở nơi</div><div class="t" style="left:409.04px;top:1238.44px;font-size:12.79px;line-height:12.79px;font-weight:700;color:#0b2435;transform:scaleX(1.0700);-webkit-text-stroke:0.25px #0b2435;">làm việc.</div><div class="t" style="left:668.13px;top:1210.48px;font-size:11.34px;line-height:11.34px;font-weight:400;color:#0b2435;transform:scaleX(1.1679);-webkit-text-stroke:0.4px #0b2435;">Chủ lao động</div><div class="t" style="left:233.85px;top:1324.22px;font-size:15.84px;line-height:15.84px;font-weight:700;color:#0b2435;transform:scaleX(0.9918);">Sắc Lệnh Bảo Vệ</div><div class="t" style="left:233.30px;top:1343.02px;font-size:15.84px;line-height:15.84px;font-weight:700;color:#0b2435;transform:scaleX(0.9466);">Hình Sự</div><div class="t" style="left:409.10px;top:1326.81px;font-size:12.79px;line-height:12.79px;font-weight:700;color:#0b2435;transform:scaleX(1.0544);-webkit-text-stroke:0.25px #0b2435;">Nạn nhân hoặc nhân chứng trong</div><div class="t" style="left:409.15px;top:1345.43px;font-size:12.79px;line-height:12.79px;font-weight:700;color:#0b2435;transform:scaleX(1.0121);-webkit-text-stroke:0.25px #0b2435;">một vụ án hình sự.</div><div class="t" style="left:667.75px;top:1336.31px;font-size:11.34px;line-height:11.34px;font-weight:400;color:#0b2435;transform:scaleX(1.1268);-webkit-text-stroke:0.4px #0b2435;">Luật sư quận trong một vụ án hình sự.</div><div class="t" style="left:985.15px;top:1319.48px;font-size:13.23px;line-height:13.23px;font-weight:700;color:#0b2435;transform:scaleX(1.0418);-webkit-text-stroke:0.2px #0b2435;">Thời gian vụ án;</div><div class="t" style="left:984.74px;top:1335.54px;font-size:13.23px;line-height:13.23px;font-weight:700;color:#0b2435;transform:scaleX(1.0875);-webkit-text-stroke:0.2px #0b2435;">có thể gia hạn</div><div class="t" style="left:985.13px;top:1351.68px;font-size:13.23px;line-height:13.23px;font-weight:700;color:#0b2435;transform:scaleX(1.0347);-webkit-text-stroke:0.2px #0b2435;">tới 10 năm</div><div class="t" style="left:233.84px;top:1429.22px;font-size:15.84px;line-height:15.84px;font-weight:700;color:#0b2435;transform:scaleX(0.9989);">Sắc Lệnh Bảo Vệ</div><div class="t" style="left:233.22px;top:1453.22px;font-size:15.84px;line-height:15.84px;font-weight:700;color:#0b2435;transform:scaleX(1.0146);">Khẩn Cấp (EPO-001</div><div class="t" style="left:233.61px;top:1477.22px;font-size:15.84px;line-height:15.84px;font-weight:700;color:#0b2435;transform:scaleX(0.9979);">&amp; EPO-002*)</div><div class="t" style="left:409.11px;top:1452.31px;font-size:12.79px;line-height:12.79px;font-weight:700;color:#0b2435;transform:scaleX(1.0343);-webkit-text-stroke:0.25px #0b2435;">Những người đang gây nguy hiểm</div><div class="t" style="left:409.48px;top:1470.23px;font-size:12.79px;line-height:12.79px;font-weight:700;color:#0b2435;transform:scaleX(1.0442);-webkit-text-stroke:0.25px #0b2435;">cho bản thân hoặc người khác</div><div class="t" style="left:668.16px;top:1460.95px;font-size:11.34px;line-height:11.34px;font-weight:400;color:#0b2435;transform:scaleX(1.1128);-webkit-text-stroke:0.4px #0b2435;">Cơ Quan Thi Hành Pháp Luật</div><div class="t" style="left:984.85px;top:1420.34px;font-size:13.23px;line-height:13.23px;font-weight:700;color:#0b2435;transform:scaleX(1.0969);-webkit-text-stroke:0.2px #0b2435;">5 ngày làm</div><div class="t" style="left:985.24px;top:1436.46px;font-size:13.23px;line-height:13.23px;font-weight:700;color:#0b2435;transform:scaleX(1.0961);-webkit-text-stroke:0.2px #0b2435;">việc của tòa</div><div class="t" style="left:984.29px;top:1452.58px;font-size:13.23px;line-height:13.23px;font-weight:700;color:#0b2435;transform:scaleX(1.0887);-webkit-text-stroke:0.2px #0b2435;">hoặc 7 ngày</div><div class="t" style="left:985.13px;top:1468.70px;font-size:13.23px;line-height:13.23px;font-weight:700;color:#0b2435;transform:scaleX(1.0684);-webkit-text-stroke:0.2px #0b2435;">theo lịch (đôi</div><div class="t" style="left:984.38px;top:1484.84px;font-size:13.23px;line-height:13.23px;font-weight:700;color:#0b2435;transform:scaleX(0.9948);-webkit-text-stroke:0.2px #0b2435;">khi lên tới 21</div><div class="t" style="left:984.30px;top:1499.94px;font-size:13.23px;line-height:13.23px;font-weight:700;color:#0b2435;transform:scaleX(1.1412);-webkit-text-stroke:0.2px #0b2435;">ngày)</div><div class="t" style="left:984.51px;top:808.34px;font-size:13.23px;line-height:13.23px;font-weight:700;color:#0b2435;transform:scaleX(1.0579);-webkit-text-stroke:0.2px #0b2435;">21 ngày; có thể</div><div class="t" style="left:984.43px;top:825.74px;font-size:13.23px;line-height:13.23px;font-weight:700;color:#0b2435;transform:scaleX(1.0584);-webkit-text-stroke:0.2px #0b2435;">gia hạn từ 1-5</div><div class="t" style="left:983.99px;top:844.16px;font-size:13.23px;line-height:13.23px;font-weight:700;color:#0b2435;transform:scaleX(1.1532);-webkit-text-stroke:0.2px #0b2435;">năm</div><div class="t" style="left:588.16px;top:134.85px;font-size:27.62px;line-height:27.62px;font-weight:700;color:#0b2435;transform:scaleX(0.9950);-webkit-text-stroke:1.5px #0b2435;">REDUCE</div><div class="t" style="left:704.53px;top:134.85px;font-size:27.62px;line-height:27.62px;font-weight:400;color:#0b2435;transform:scaleX(0.9171);-webkit-text-stroke:0.9px #0b2435;">THE</div><div class="t" style="left:756.22px;top:134.85px;font-size:27.62px;line-height:27.62px;font-weight:700;color:#0b2435;transform:scaleX(1.0193);-webkit-text-stroke:1.5px #0b2435;">RISK</div><div class="t" style="left:594.43px;top:165.58px;font-size:11.63px;line-height:11.63px;font-weight:400;color:#0b2435;transform:scaleX(0.9779);-webkit-text-stroke:0.4px #0b2435;">Gun Violence Protection Orders</div><div class="t" style="left:762.61px;top:165.61px;font-size:11.63px;line-height:11.63px;font-weight:400;color:#0b2435;transform:scaleX(0.9329);-webkit-text-stroke:0.4px #0b2435;">Save Lives</div><div class="t" style="left:48.33px;top:96.00px;font-size:16.57px;line-height:16.57px;font-weight:700;color:#ffffff;transform:rotate(90deg) scaleX(1.0055);">TỜ THÔNG TIN</div><div class="t" style="left:1197.50px;top:1557.60px;font-size:15.12px;line-height:15.12px;font-weight:400;color:#1f3a5c;transform:rotate(-90deg) scaleX(0.9623);">POLIST 8X11-VN-0725</div>
</body></html>
